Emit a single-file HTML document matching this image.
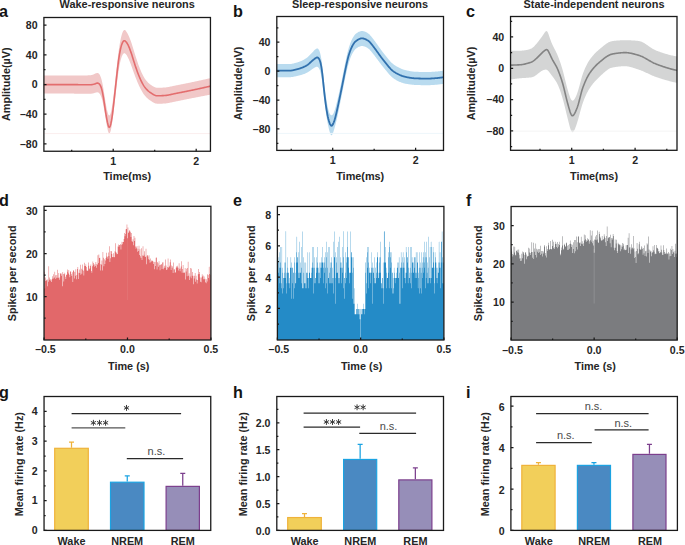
<!DOCTYPE html><html><head><meta charset="utf-8"><style>html,body{margin:0;padding:0;background:#fff;overflow:hidden}svg{display:block;font-family:"Liberation Sans", sans-serif}.t{font-size:10.6px;font-weight:bold;fill:#262626}.l{font-size:10.85px;font-weight:bold;fill:#262626}.T{font-size:10.9px;font-weight:bold;fill:#262626}.L{font-size:16.2px;font-weight:bold;fill:#141414}.s{font-size:11px;fill:#4a4a4a}</style></head><body>
<svg width="685" height="545" viewBox="0 0 685 545">
<rect width="685" height="545" fill="#fff"/>
<defs>
<clipPath id="ca"><rect x="43.9" y="17.5" width="166.55" height="133.75"/></clipPath>
<clipPath id="cb"><rect x="276.8" y="16.5" width="166.7" height="133.9"/></clipPath>
<clipPath id="cc"><rect x="510.55" y="16.5" width="166.45" height="133.8"/></clipPath>
<clipPath id="cd"><rect x="44.05" y="206.3" width="166.85" height="133.7"/></clipPath>
<clipPath id="ce"><rect x="277.4" y="206.45" width="166.5" height="133.55"/></clipPath>
<clipPath id="cf"><rect x="511.1" y="206.5" width="166.1" height="133.6"/></clipPath>
</defs>
<path d="M42.9 75.6 43.4 75.6 43.9 75.6 44.4 75.6 44.9 75.6 45.4 75.6 45.9 75.6 46.4 75.6 46.9 75.6 47.4 75.6 47.9 75.6 48.4 75.6 48.9 75.6 49.4 75.6 49.9 75.6 50.4 75.6 50.9 75.6 51.4 75.6 51.9 75.6 52.4 75.6 52.9 75.6 53.4 75.6 53.9 75.6 54.4 75.6 54.9 75.6 55.4 75.6 55.9 75.6 56.4 75.6 56.9 75.6 57.4 75.6 57.9 75.6 58.4 75.6 58.9 75.6 59.4 75.6 59.9 75.6 60.4 75.6 60.9 75.6 61.4 75.6 61.9 75.6 62.4 75.6 62.9 75.6 63.4 75.6 63.9 75.6 64.4 75.6 64.9 75.6 65.4 75.6 65.9 75.6 66.4 75.6 66.9 75.6 67.4 75.6 67.9 75.6 68.4 75.6 68.9 75.6 69.4 75.6 69.9 75.6 70.4 75.6 70.9 75.6 71.4 75.6 71.9 75.6 72.4 75.6 72.9 75.59 73.4 75.59 73.9 75.59 74.4 75.59 74.9 75.59 75.4 75.58 75.9 75.58 76.4 75.57 76.9 75.57 77.4 75.57 77.9 75.56 78.4 75.56 78.9 75.55 79.4 75.54 79.9 75.54 80.4 75.53 80.9 75.52 81.4 75.51 81.9 75.51 82.4 75.5 82.9 75.49 83.4 75.48 83.9 75.47 84.4 75.46 84.9 75.45 85.4 75.43 85.9 75.42 86.4 75.41 86.9 75.39 87.4 75.38 87.9 75.36 88.4 75.35 88.9 75.32 89.4 75.29 89.9 75.25 90.4 75.2 90.9 75.13 91.4 75.04 91.9 74.92 92.4 74.79 92.9 74.64 93.4 74.46 93.9 74.27 94.4 74.06 94.9 73.83 95.4 73.59 95.9 73.35 96.4 73.15 96.9 73.01 97.4 72.96 97.9 73.05 98.4 73.29 98.9 73.7 99.4 74.3 99.9 75.1 100.4 76.15 100.9 77.47 101.4 79.09 101.9 81.03 102.4 83.3 102.9 85.87 103.4 88.71 103.9 91.74 104.4 94.89 104.9 98.07 105.4 101.19 105.9 104.18 106.4 106.95 106.9 109.44 107.4 111.6 107.9 113.36 108.4 114.63 108.9 115.36 109.4 115.49 109.9 115 110.4 113.88 110.9 112.18 111.4 109.94 111.9 107.22 112.4 104.05 112.9 100.49 113.4 96.62 113.9 92.49 114.4 88.17 114.9 83.72 115.4 79.18 115.9 74.59 116.4 70.01 116.9 65.5 117.4 61.11 117.9 56.91 118.4 52.98 118.9 49.34 119.4 46.03 119.9 43.05 120.4 40.39 120.9 38.04 121.4 35.98 121.9 34.2 122.4 32.71 122.9 31.53 123.4 30.66 123.9 30.13 124.4 29.92 124.9 30.02 125.4 30.37 125.9 30.92 126.4 31.63 126.9 32.43 127.4 33.32 127.9 34.27 128.4 35.28 128.9 36.36 129.4 37.49 129.9 38.7 130.4 39.99 130.9 41.35 131.4 42.79 131.9 44.3 132.4 45.88 132.9 47.5 133.4 49.14 133.9 50.8 134.4 52.45 134.9 54.08 135.4 55.68 135.9 57.27 136.4 58.82 136.9 60.35 137.4 61.85 137.9 63.3 138.4 64.71 138.9 66.07 139.4 67.37 139.9 68.63 140.4 69.84 140.9 71.01 141.4 72.14 141.9 73.23 142.4 74.27 142.9 75.26 143.4 76.2 143.9 77.08 144.4 77.91 144.9 78.68 145.4 79.4 145.9 80.07 146.4 80.7 146.9 81.3 147.4 81.86 147.9 82.39 148.4 82.88 148.9 83.35 149.4 83.78 149.9 84.18 150.4 84.57 150.9 84.93 151.4 85.27 151.9 85.61 152.4 85.93 152.9 86.23 153.4 86.51 153.9 86.78 154.4 87.01 154.9 87.22 155.4 87.39 155.9 87.53 156.4 87.63 156.9 87.7 157.4 87.74 157.9 87.76 158.4 87.77 158.9 87.77 159.4 87.76 159.9 87.74 160.4 87.73 160.9 87.71 161.4 87.69 161.9 87.67 162.4 87.64 162.9 87.62 163.4 87.59 163.9 87.56 164.4 87.53 164.9 87.49 165.4 87.44 165.9 87.39 166.4 87.34 166.9 87.27 167.4 87.2 167.9 87.12 168.4 87.03 168.9 86.93 169.4 86.83 169.9 86.73 170.4 86.62 170.9 86.51 171.4 86.4 171.9 86.28 172.4 86.17 172.9 86.06 173.4 85.95 173.9 85.84 174.4 85.73 174.9 85.63 175.4 85.53 175.9 85.43 176.4 85.33 176.9 85.23 177.4 85.13 177.9 85.03 178.4 84.94 178.9 84.84 179.4 84.74 179.9 84.64 180.4 84.54 180.9 84.45 181.4 84.35 181.9 84.25 182.4 84.15 182.9 84.05 183.4 83.95 183.9 83.85 184.4 83.75 184.9 83.65 185.4 83.55 185.9 83.45 186.4 83.35 186.9 83.25 187.4 83.15 187.9 83.05 188.4 82.94 188.9 82.84 189.4 82.74 189.9 82.64 190.4 82.53 190.9 82.43 191.4 82.32 191.9 82.22 192.4 82.11 192.9 82.01 193.4 81.9 193.9 81.8 194.4 81.69 194.9 81.59 195.4 81.48 195.9 81.37 196.4 81.27 196.9 81.16 197.4 81.05 197.9 80.94 198.4 80.83 198.9 80.72 199.4 80.62 199.9 80.51 200.4 80.4 200.9 80.29 201.4 80.18 201.9 80.07 202.4 79.96 202.9 79.84 203.4 79.73 203.9 79.62 204.4 79.51 204.9 79.4 205.4 79.29 205.9 79.17 206.4 79.06 206.9 78.95 207.4 78.83 207.9 78.72 208.4 78.61 208.9 78.5 209.4 78.4 209.9 78.32 210.4 78.24 210.9 78.19 211.4 78.15 L211.4 94.64 210.9 94.67 210.4 94.72 209.9 94.78 209.4 94.85 208.9 94.94 208.4 95.02 207.9 95.12 207.4 95.21 206.9 95.31 206.4 95.4 205.9 95.5 205.4 95.59 204.9 95.69 204.4 95.79 203.9 95.88 203.4 95.98 202.9 96.08 202.4 96.17 201.9 96.27 201.4 96.37 200.9 96.46 200.4 96.56 199.9 96.66 199.4 96.75 198.9 96.85 198.4 96.95 197.9 97.05 197.4 97.14 196.9 97.24 196.4 97.34 195.9 97.44 195.4 97.53 194.9 97.63 194.4 97.73 193.9 97.83 193.4 97.93 192.9 98.02 192.4 98.12 191.9 98.22 191.4 98.32 190.9 98.42 190.4 98.52 189.9 98.62 189.4 98.72 188.9 98.82 188.4 98.92 187.9 99.02 187.4 99.12 186.9 99.22 186.4 99.32 185.9 99.42 185.4 99.52 184.9 99.62 184.4 99.72 183.9 99.82 183.4 99.93 182.9 100.03 182.4 100.13 181.9 100.23 181.4 100.33 180.9 100.43 180.4 100.53 179.9 100.63 179.4 100.73 178.9 100.83 178.4 100.93 177.9 101.03 177.4 101.13 176.9 101.23 176.4 101.33 175.9 101.43 175.4 101.53 174.9 101.63 174.4 101.73 173.9 101.84 173.4 101.95 172.9 102.06 172.4 102.17 171.9 102.28 171.4 102.4 170.9 102.51 170.4 102.62 169.9 102.73 169.4 102.83 168.9 102.93 168.4 103.03 167.9 103.12 167.4 103.2 166.9 103.27 166.4 103.34 165.9 103.39 165.4 103.44 164.9 103.49 164.4 103.53 163.9 103.56 163.4 103.59 162.9 103.62 162.4 103.64 161.9 103.67 161.4 103.69 160.9 103.71 160.4 103.73 159.9 103.74 159.4 103.76 158.9 103.76 158.4 103.77 157.9 103.76 157.4 103.74 156.9 103.69 156.4 103.62 155.9 103.52 155.4 103.38 154.9 103.2 154.4 102.99 153.9 102.75 153.4 102.48 152.9 102.2 152.4 101.9 151.9 101.59 151.4 101.27 150.9 100.94 150.4 100.61 149.9 100.27 149.4 99.92 148.9 99.55 148.4 99.16 147.9 98.75 147.4 98.32 146.9 97.86 146.4 97.38 145.9 96.86 145.4 96.32 144.9 95.73 144.4 95.1 143.9 94.42 143.4 93.69 142.9 92.92 142.4 92.11 141.9 91.25 141.4 90.36 140.9 89.44 140.4 88.48 139.9 87.49 139.4 86.46 138.9 85.4 138.4 84.3 137.9 83.16 137.4 81.98 136.9 80.77 136.4 79.53 135.9 78.26 135.4 76.96 134.9 75.64 134.4 74.29 133.9 72.91 133.4 71.53 132.9 70.13 132.4 68.73 131.9 67.34 131.4 65.96 130.9 64.61 130.4 63.29 129.9 62.01 129.4 60.77 128.9 59.58 128.4 58.46 127.9 57.42 127.4 56.47 126.9 55.61 126.4 54.85 125.9 54.21 125.4 53.7 124.9 53.36 124.4 53.23 123.9 53.33 123.4 53.67 122.9 54.28 122.4 55.14 121.9 56.25 121.4 57.63 120.9 59.29 120.4 61.24 119.9 63.52 119.4 66.12 118.9 69.06 118.4 72.33 117.9 75.92 117.4 79.77 116.9 83.84 116.4 88.06 115.9 92.37 115.4 96.71 114.9 101.05 114.4 105.33 113.9 109.53 113.4 113.6 112.9 117.48 112.4 121.12 111.9 124.45 111.4 127.41 110.9 129.9 110.4 131.83 109.9 133.09 109.4 133.6 108.9 133.33 108.4 132.3 107.9 130.63 107.4 128.45 106.9 125.9 106.4 123.11 105.9 120.15 105.4 117.12 104.9 114.07 104.4 111.07 103.9 108.19 103.4 105.48 102.9 103.01 102.4 100.81 101.9 98.91 101.4 97.3 100.9 95.98 100.4 94.92 99.9 94.07 99.4 93.42 98.9 92.94 98.4 92.6 97.9 92.4 97.4 92.31 96.9 92.32 96.4 92.41 95.9 92.54 95.4 92.69 94.9 92.85 94.4 93 93.9 93.14 93.4 93.27 92.9 93.38 92.4 93.48 91.9 93.57 91.4 93.64 90.9 93.69 90.4 93.74 89.9 93.76 89.4 93.78 88.9 93.79 88.4 93.79 87.9 93.79 87.4 93.79 86.9 93.79 86.4 93.78 85.9 93.78 85.4 93.77 84.9 93.77 84.4 93.76 83.9 93.75 83.4 93.75 82.9 93.74 82.4 93.73 81.9 93.73 81.4 93.72 80.9 93.71 80.4 93.71 79.9 93.7 79.4 93.69 78.9 93.68 78.4 93.68 77.9 93.67 77.4 93.66 76.9 93.66 76.4 93.65 75.9 93.64 75.4 93.64 74.9 93.63 74.4 93.63 73.9 93.62 73.4 93.62 72.9 93.61 72.4 93.61 71.9 93.61 71.4 93.6 70.9 93.6 70.4 93.6 69.9 93.6 69.4 93.6 68.9 93.6 68.4 93.6 67.9 93.6 67.4 93.6 66.9 93.6 66.4 93.6 65.9 93.6 65.4 93.6 64.9 93.6 64.4 93.6 63.9 93.6 63.4 93.6 62.9 93.6 62.4 93.6 61.9 93.6 61.4 93.6 60.9 93.6 60.4 93.6 59.9 93.6 59.4 93.6 58.9 93.6 58.4 93.6 57.9 93.6 57.4 93.6 56.9 93.6 56.4 93.6 55.9 93.6 55.4 93.6 54.9 93.6 54.4 93.6 53.9 93.6 53.4 93.6 52.9 93.6 52.4 93.6 51.9 93.6 51.4 93.6 50.9 93.6 50.4 93.6 49.9 93.6 49.4 93.6 48.9 93.6 48.4 93.6 47.9 93.6 47.4 93.6 46.9 93.6 46.4 93.6 45.9 93.6 45.4 93.6 44.9 93.6 44.4 93.6 43.9 93.6 43.4 93.6 42.9 93.6Z" fill="#f1c8c8" clip-path="url(#ca)"/>
<path d="M42.9 84.6 43.4 84.6 43.9 84.6 44.4 84.6 44.9 84.6 45.4 84.6 45.9 84.6 46.4 84.6 46.9 84.6 47.4 84.6 47.9 84.6 48.4 84.6 48.9 84.6 49.4 84.6 49.9 84.6 50.4 84.6 50.9 84.6 51.4 84.6 51.9 84.6 52.4 84.6 52.9 84.6 53.4 84.6 53.9 84.6 54.4 84.6 54.9 84.6 55.4 84.6 55.9 84.6 56.4 84.6 56.9 84.6 57.4 84.6 57.9 84.6 58.4 84.6 58.9 84.6 59.4 84.6 59.9 84.6 60.4 84.6 60.9 84.6 61.4 84.6 61.9 84.6 62.4 84.6 62.9 84.6 63.4 84.6 63.9 84.6 64.4 84.6 64.9 84.6 65.4 84.6 65.9 84.6 66.4 84.6 66.9 84.6 67.4 84.6 67.9 84.6 68.4 84.6 68.9 84.6 69.4 84.6 69.9 84.6 70.4 84.6 70.9 84.6 71.4 84.6 71.9 84.61 72.4 84.61 72.9 84.61 73.4 84.62 73.9 84.62 74.4 84.63 74.9 84.63 75.4 84.64 75.9 84.64 76.4 84.65 76.9 84.66 77.4 84.66 77.9 84.67 78.4 84.68 78.9 84.68 79.4 84.69 79.9 84.7 80.4 84.71 80.9 84.71 81.4 84.72 81.9 84.73 82.4 84.74 82.9 84.74 83.4 84.75 83.9 84.76 84.4 84.76 84.9 84.77 85.4 84.77 85.9 84.78 86.4 84.78 86.9 84.79 87.4 84.79 87.9 84.79 88.4 84.8 88.9 84.8 89.4 84.79 89.9 84.79 90.4 84.77 90.9 84.73 91.4 84.68 91.9 84.6 92.4 84.51 92.9 84.41 93.4 84.3 93.9 84.17 94.4 84.04 94.9 83.89 95.4 83.71 95.9 83.51 96.4 83.31 96.9 83.16 97.4 83.09 97.9 83.13 98.4 83.32 98.9 83.64 99.4 84.1 99.9 84.72 100.4 85.56 100.9 86.67 101.4 88.12 101.9 89.92 102.4 92.08 102.9 94.61 103.4 97.49 103.9 100.62 104.4 103.9 104.9 107.26 105.4 110.61 105.9 113.85 106.4 116.89 106.9 119.65 107.4 122.13 107.9 124.28 108.4 125.98 108.9 127.04 109.4 127.31 109.9 126.74 110.4 125.41 110.9 123.46 111.4 120.99 111.9 118.04 112.4 114.59 112.9 110.68 113.4 106.43 113.9 101.99 114.4 97.45 114.9 92.86 115.4 88.23 115.9 83.58 116.4 78.95 116.9 74.36 117.4 69.88 117.9 65.63 118.4 61.69 118.9 58.12 119.4 54.9 119.9 52.02 120.4 49.5 120.9 47.36 121.4 45.58 121.9 44.1 122.4 42.88 122.9 41.89 123.4 41.19 123.9 40.78 124.4 40.68 124.9 40.84 125.4 41.19 125.9 41.7 126.4 42.31 126.9 43.01 127.4 43.8 127.9 44.69 128.4 45.7 128.9 46.84 129.4 48.07 129.9 49.37 130.4 50.73 130.9 52.13 131.4 53.59 131.9 55.11 132.4 56.69 132.9 58.3 133.4 59.92 133.9 61.53 134.4 63.11 134.9 64.65 135.4 66.15 135.9 67.63 136.4 69.08 136.9 70.51 137.4 71.91 137.9 73.27 138.4 74.57 138.9 75.82 139.4 77.01 139.9 78.14 140.4 79.24 140.9 80.31 141.4 81.34 141.9 82.34 142.4 83.29 142.9 84.21 143.4 85.07 143.9 85.87 144.4 86.62 144.9 87.31 145.4 87.94 145.9 88.54 146.4 89.11 146.9 89.64 147.4 90.15 147.9 90.63 148.4 91.08 148.9 91.5 149.4 91.9 149.9 92.27 150.4 92.62 150.9 92.96 151.4 93.29 151.9 93.62 152.4 93.94 152.9 94.25 153.4 94.54 153.9 94.82 154.4 95.07 154.9 95.28 155.4 95.46 155.9 95.6 156.4 95.7 156.9 95.75 157.4 95.78 157.9 95.79 158.4 95.78 158.9 95.77 159.4 95.76 159.9 95.75 160.4 95.73 160.9 95.71 161.4 95.69 161.9 95.67 162.4 95.65 162.9 95.62 163.4 95.59 163.9 95.56 164.4 95.53 164.9 95.5 165.4 95.46 165.9 95.41 166.4 95.36 166.9 95.29 167.4 95.21 167.9 95.13 168.4 95.04 168.9 94.94 169.4 94.84 169.9 94.73 170.4 94.62 170.9 94.51 171.4 94.4 171.9 94.28 172.4 94.17 172.9 94.05 173.4 93.94 173.9 93.83 174.4 93.73 174.9 93.62 175.4 93.52 175.9 93.43 176.4 93.33 176.9 93.23 177.4 93.13 177.9 93.03 178.4 92.94 178.9 92.84 179.4 92.74 179.9 92.64 180.4 92.54 180.9 92.45 181.4 92.35 181.9 92.25 182.4 92.15 182.9 92.05 183.4 91.95 183.9 91.85 184.4 91.75 184.9 91.65 185.4 91.55 185.9 91.45 186.4 91.35 186.9 91.25 187.4 91.15 187.9 91.05 188.4 90.94 188.9 90.84 189.4 90.74 189.9 90.64 190.4 90.53 190.9 90.43 191.4 90.32 191.9 90.22 192.4 90.12 192.9 90.01 193.4 89.91 193.9 89.8 194.4 89.69 194.9 89.59 195.4 89.48 195.9 89.37 196.4 89.27 196.9 89.16 197.4 89.05 197.9 88.94 198.4 88.83 198.9 88.73 199.4 88.62 199.9 88.51 200.4 88.4 200.9 88.29 201.4 88.18 201.9 88.07 202.4 87.96 202.9 87.85 203.4 87.73 203.9 87.62 204.4 87.51 204.9 87.4 205.4 87.29 205.9 87.17 206.4 87.06 206.9 86.95 207.4 86.83 207.9 86.72 208.4 86.61 208.9 86.49 209.4 86.38 209.9 86.28 210.4 86.2 210.9 86.14 211.4 86.12" fill="none" stroke="#e36d6e" stroke-width="1.6" stroke-linejoin="round" clip-path="url(#ca)"/>
<path d="M44.5 133.6H210" stroke="#fbeeee" stroke-width="1"/>
<rect x="43.9" y="17.5" width="166.55" height="133.75" fill="none" stroke="#1a1a1a" stroke-width="1.3"/>
<path d="M43.9 25.14h2.6M43.9 54.82h2.6M43.9 84.5h2.6M43.9 114.18h2.6M43.9 143.86h2.6M43.9 39.98h1.6M43.9 69.66h1.6M43.9 99.34h1.6M43.9 129.02h1.6" stroke="#1a1a1a" stroke-width="1.25" fill="none"/>
<text x="37.6" y="28.89" text-anchor="end" class="t">80</text>
<text x="37.6" y="58.57" text-anchor="end" class="t">40</text>
<text x="37.6" y="88.25" text-anchor="end" class="t">0</text>
<text x="37.6" y="117.93" text-anchor="end" class="t">–40</text>
<text x="37.6" y="147.61" text-anchor="end" class="t">–80</text>
<path d="M113.2 151.25v-2.6M196.2 151.25v-2.6M71.7 151.25v-1.6M154.7 151.25v-1.6" stroke="#1a1a1a" stroke-width="1.25" fill="none"/>
<text x="113.2" y="164.65" text-anchor="middle" class="t">1</text>
<text x="196.2" y="164.65" text-anchor="middle" class="t">2</text>
<text transform="translate(10.1 84.2) rotate(-90)" text-anchor="middle" class="l">Amplitude(µV)</text>
<text x="127.2" y="180.3" text-anchor="middle" class="l">Time(ms)</text>
<text x="-0.9" y="16.9" class="L">a</text>
<text x="127.2" y="8.1" text-anchor="middle" class="T">Wake-responsive neurons</text>
<path d="M275.8 64.1 276.3 64.1 276.8 64.1 277.3 64.1 277.8 64.1 278.3 64.1 278.8 64.1 279.3 64.1 279.8 64.1 280.3 64.1 280.8 64.1 281.3 64.1 281.8 64.1 282.3 64.1 282.8 64.1 283.3 64.1 283.8 64.1 284.3 64.1 284.8 64.1 285.3 64.1 285.8 64.1 286.3 64.1 286.8 64.1 287.3 64.1 287.8 64.09 288.3 64.09 288.8 64.08 289.3 64.06 289.8 64.03 290.3 63.99 290.8 63.94 291.3 63.88 291.8 63.8 292.3 63.71 292.8 63.61 293.3 63.5 293.8 63.38 294.3 63.26 294.8 63.12 295.3 62.99 295.8 62.85 296.3 62.7 296.8 62.55 297.3 62.4 297.8 62.25 298.3 62.08 298.8 61.92 299.3 61.74 299.8 61.56 300.3 61.36 300.8 61.16 301.3 60.94 301.8 60.71 302.3 60.47 302.8 60.22 303.3 59.96 303.8 59.69 304.3 59.41 304.8 59.12 305.3 58.82 305.8 58.5 306.3 58.16 306.8 57.8 307.3 57.42 307.8 57.01 308.3 56.57 308.8 56.1 309.3 55.6 309.8 55.09 310.3 54.56 310.8 54.03 311.3 53.49 311.8 52.96 312.3 52.43 312.8 51.9 313.3 51.38 313.8 50.86 314.3 50.35 314.8 49.85 315.3 49.39 315.8 48.98 316.3 48.66 316.8 48.46 317.3 48.42 317.8 48.58 318.3 48.97 318.8 49.63 319.3 50.61 319.8 51.95 320.3 53.72 320.8 55.97 321.3 58.75 321.8 62.05 322.3 65.85 322.8 70.04 323.3 74.49 323.8 79.02 324.3 83.48 324.8 87.76 325.3 91.78 325.8 95.51 326.3 98.94 326.8 102.05 327.3 104.85 327.8 107.32 328.3 109.44 328.8 111.22 329.3 112.66 329.8 113.77 330.3 114.59 330.8 115.12 331.3 115.37 331.8 115.34 332.3 115.05 332.8 114.49 333.3 113.69 333.8 112.64 334.3 111.37 334.8 109.9 335.3 108.25 335.8 106.45 336.3 104.53 336.8 102.53 337.3 100.45 337.8 98.31 338.3 96.13 338.8 93.91 339.3 91.66 339.8 89.38 340.3 87.06 340.8 84.72 341.3 82.34 341.8 79.92 342.3 77.48 342.8 75 343.3 72.51 343.8 70.01 344.3 67.53 344.8 65.06 345.3 62.64 345.8 60.27 346.3 57.95 346.8 55.72 347.3 53.57 347.8 51.54 348.3 49.63 348.8 47.85 349.3 46.2 349.8 44.68 350.3 43.28 350.8 41.98 351.3 40.79 351.8 39.69 352.3 38.68 352.8 37.75 353.3 36.91 353.8 36.15 354.3 35.47 354.8 34.86 355.3 34.33 355.8 33.86 356.3 33.44 356.8 33.07 357.3 32.72 357.8 32.41 358.3 32.12 358.8 31.86 359.3 31.63 359.8 31.44 360.3 31.28 360.8 31.16 361.3 31.08 361.8 31.05 362.3 31.05 362.8 31.09 363.3 31.18 363.8 31.29 364.3 31.44 364.8 31.61 365.3 31.82 365.8 32.04 366.3 32.29 366.8 32.56 367.3 32.85 367.8 33.17 368.3 33.52 368.8 33.92 369.3 34.36 369.8 34.85 370.3 35.38 370.8 35.95 371.3 36.55 371.8 37.16 372.3 37.79 372.8 38.43 373.3 39.07 373.8 39.73 374.3 40.4 374.8 41.08 375.3 41.76 375.8 42.46 376.3 43.16 376.8 43.87 377.3 44.58 377.8 45.29 378.3 46 378.8 46.71 379.3 47.42 379.8 48.11 380.3 48.81 380.8 49.49 381.3 50.16 381.8 50.83 382.3 51.48 382.8 52.13 383.3 52.77 383.8 53.41 384.3 54.05 384.8 54.69 385.3 55.32 385.8 55.96 386.3 56.6 386.8 57.24 387.3 57.86 387.8 58.49 388.3 59.1 388.8 59.7 389.3 60.28 389.8 60.85 390.3 61.4 390.8 61.93 391.3 62.43 391.8 62.92 392.3 63.37 392.8 63.8 393.3 64.2 393.8 64.58 394.3 64.94 394.8 65.28 395.3 65.61 395.8 65.92 396.3 66.22 396.8 66.52 397.3 66.8 397.8 67.08 398.3 67.35 398.8 67.6 399.3 67.85 399.8 68.09 400.3 68.32 400.8 68.54 401.3 68.75 401.8 68.95 402.3 69.14 402.8 69.31 403.3 69.48 403.8 69.64 404.3 69.79 404.8 69.92 405.3 70.06 405.8 70.18 406.3 70.3 406.8 70.42 407.3 70.53 407.8 70.64 408.3 70.75 408.8 70.85 409.3 70.95 409.8 71.05 410.3 71.14 410.8 71.22 411.3 71.31 411.8 71.38 412.3 71.45 412.8 71.52 413.3 71.58 413.8 71.63 414.3 71.68 414.8 71.71 415.3 71.75 415.8 71.78 416.3 71.8 416.8 71.82 417.3 71.84 417.8 71.85 418.3 71.87 418.8 71.88 419.3 71.89 419.8 71.91 420.3 71.92 420.8 71.93 421.3 71.94 421.8 71.95 422.3 71.96 422.8 71.96 423.3 71.97 423.8 71.98 424.3 71.98 424.8 71.99 425.3 71.99 425.8 71.99 426.3 71.99 426.8 71.99 427.3 71.99 427.8 71.99 428.3 71.98 428.8 71.97 429.3 71.96 429.8 71.94 430.3 71.93 430.8 71.91 431.3 71.88 431.8 71.86 432.3 71.83 432.8 71.8 433.3 71.77 433.8 71.73 434.3 71.7 434.8 71.66 435.3 71.62 435.8 71.57 436.3 71.53 436.8 71.48 437.3 71.43 437.8 71.38 438.3 71.33 438.8 71.27 439.3 71.22 439.8 71.16 440.3 71.1 440.8 71.04 441.3 70.98 441.8 70.92 442.3 70.86 442.8 70.82 443.3 70.78 443.8 70.75 444.3 70.73 L444.3 83.93 443.8 83.95 443.3 83.98 442.8 84.02 442.3 84.06 441.8 84.12 441.3 84.18 440.8 84.24 440.3 84.3 439.8 84.36 439.3 84.42 438.8 84.47 438.3 84.53 437.8 84.58 437.3 84.63 436.8 84.68 436.3 84.73 435.8 84.77 435.3 84.82 434.8 84.86 434.3 84.9 433.8 84.93 433.3 84.97 432.8 85 432.3 85.03 431.8 85.06 431.3 85.08 430.8 85.11 430.3 85.13 429.8 85.14 429.3 85.16 428.8 85.17 428.3 85.18 427.8 85.19 427.3 85.19 426.8 85.19 426.3 85.19 425.8 85.19 425.3 85.19 424.8 85.19 424.3 85.18 423.8 85.18 423.3 85.17 422.8 85.16 422.3 85.16 421.8 85.15 421.3 85.14 420.8 85.13 420.3 85.12 419.8 85.1 419.3 85.09 418.8 85.08 418.3 85.07 417.8 85.05 417.3 85.04 416.8 85.02 416.3 85 415.8 84.98 415.3 84.96 414.8 84.93 414.3 84.9 413.8 84.86 413.3 84.82 412.8 84.78 412.3 84.73 411.8 84.67 411.3 84.62 410.8 84.55 410.3 84.49 409.8 84.42 409.3 84.34 408.8 84.27 408.3 84.19 407.8 84.11 407.3 84.02 406.8 83.93 406.3 83.84 405.8 83.74 405.3 83.64 404.8 83.53 404.3 83.41 403.8 83.29 403.3 83.15 402.8 83 402.3 82.84 401.8 82.67 401.3 82.49 400.8 82.3 400.3 82.1 399.8 81.89 399.3 81.66 398.8 81.43 398.3 81.19 397.8 80.94 397.3 80.68 396.8 80.41 396.3 80.14 395.8 79.85 395.3 79.56 394.8 79.25 394.3 78.93 393.8 78.59 393.3 78.23 392.8 77.85 392.3 77.44 391.8 77 391.3 76.54 390.8 76.05 390.3 75.54 389.8 75 389.3 74.45 388.8 73.88 388.3 73.3 387.8 72.71 387.3 72.1 386.8 71.49 386.3 70.87 385.8 70.26 385.3 69.63 384.8 69.01 384.3 68.4 383.8 67.78 383.3 67.16 382.8 66.54 382.3 65.92 381.8 65.29 381.3 64.66 380.8 64.01 380.3 63.36 379.8 62.7 379.3 62.03 378.8 61.36 378.3 60.68 377.8 60 377.3 59.32 376.8 58.65 376.3 57.97 375.8 57.3 375.3 56.63 374.8 55.97 374.3 55.31 373.8 54.67 373.3 54.03 372.8 53.4 372.3 52.77 371.8 52.15 371.3 51.55 370.8 50.95 370.3 50.39 369.8 49.85 369.3 49.36 368.8 48.92 368.3 48.52 367.8 48.17 367.3 47.85 366.8 47.56 366.3 47.29 365.8 47.04 365.3 46.82 364.8 46.61 364.3 46.44 363.8 46.29 363.3 46.18 362.8 46.09 362.3 46.05 361.8 46.05 361.3 46.08 360.8 46.16 360.3 46.28 359.8 46.44 359.3 46.63 358.8 46.86 358.3 47.12 357.8 47.41 357.3 47.72 356.8 48.07 356.3 48.44 355.8 48.86 355.3 49.33 354.8 49.86 354.3 50.47 353.8 51.15 353.3 51.91 352.8 52.75 352.3 53.68 351.8 54.69 351.3 55.79 350.8 56.98 350.3 58.28 349.8 59.68 349.3 61.2 348.8 62.85 348.3 64.63 347.8 66.54 347.3 68.57 346.8 70.71 346.3 72.95 345.8 75.26 345.3 77.62 344.8 80.04 344.3 82.5 343.8 84.99 343.3 87.5 342.8 90.03 342.3 92.55 341.8 95.08 341.3 97.6 340.8 100.1 340.3 102.59 339.8 105.06 339.3 107.5 338.8 109.92 338.3 112.3 337.8 114.64 337.3 116.92 336.8 119.14 336.3 121.27 335.8 123.3 335.3 125.24 334.8 127.1 334.3 128.89 333.8 130.59 333.3 132.18 332.8 133.55 332.3 134.59 331.8 135.19 331.3 135.26 330.8 134.77 330.3 133.77 329.8 132.34 329.3 130.57 328.8 128.56 328.3 126.35 327.8 123.95 327.3 121.34 326.8 118.49 326.3 115.37 325.8 111.96 325.3 108.25 324.8 104.25 324.3 100 323.8 95.57 323.3 91.11 322.8 86.78 322.3 82.76 321.8 79.19 321.3 76.15 320.8 73.65 320.3 71.65 319.8 70.09 319.3 68.9 318.8 68.01 318.3 67.38 317.8 66.98 317.3 66.77 316.8 66.71 316.3 66.79 315.8 66.95 315.3 67.18 314.8 67.45 314.3 67.75 313.8 68.06 313.3 68.39 312.8 68.72 312.3 69.07 311.8 69.42 311.3 69.79 310.8 70.16 310.3 70.53 309.8 70.91 309.3 71.27 308.8 71.62 308.3 71.96 307.8 72.27 307.3 72.56 306.8 72.82 306.3 73.07 305.8 73.3 305.3 73.52 304.8 73.72 304.3 73.91 303.8 74.1 303.3 74.28 302.8 74.45 302.3 74.62 301.8 74.78 301.3 74.93 300.8 75.07 300.3 75.21 299.8 75.35 299.3 75.48 298.8 75.6 298.3 75.72 297.8 75.84 297.3 75.96 296.8 76.07 296.3 76.19 295.8 76.3 295.3 76.41 294.8 76.52 294.3 76.62 293.8 76.72 293.3 76.82 292.8 76.9 292.3 76.98 291.8 77.06 291.3 77.12 290.8 77.17 290.3 77.21 289.8 77.24 289.3 77.27 288.8 77.28 288.3 77.29 287.8 77.3 287.3 77.3 286.8 77.3 286.3 77.3 285.8 77.3 285.3 77.3 284.8 77.3 284.3 77.3 283.8 77.3 283.3 77.3 282.8 77.3 282.3 77.3 281.8 77.3 281.3 77.3 280.8 77.3 280.3 77.3 279.8 77.3 279.3 77.3 278.8 77.3 278.3 77.3 277.8 77.3 277.3 77.3 276.8 77.3 276.3 77.3 275.8 77.3Z" fill="#b9dbef" clip-path="url(#cb)"/>
<path d="M275.8 70.7 276.3 70.7 276.8 70.7 277.3 70.7 277.8 70.7 278.3 70.7 278.8 70.7 279.3 70.7 279.8 70.7 280.3 70.7 280.8 70.7 281.3 70.7 281.8 70.7 282.3 70.7 282.8 70.7 283.3 70.7 283.8 70.7 284.3 70.7 284.8 70.7 285.3 70.7 285.8 70.7 286.3 70.7 286.8 70.7 287.3 70.7 287.8 70.7 288.3 70.7 288.8 70.69 289.3 70.68 289.8 70.66 290.3 70.63 290.8 70.58 291.3 70.52 291.8 70.45 292.3 70.37 292.8 70.28 293.3 70.17 293.8 70.07 294.3 69.95 294.8 69.83 295.3 69.71 295.8 69.58 296.3 69.45 296.8 69.32 297.3 69.18 297.8 69.05 298.3 68.91 298.8 68.77 299.3 68.62 299.8 68.47 300.3 68.3 300.8 68.13 301.3 67.95 301.8 67.76 302.3 67.56 302.8 67.36 303.3 67.14 303.8 66.92 304.3 66.68 304.8 66.44 305.3 66.19 305.8 65.93 306.3 65.66 306.8 65.36 307.3 65.04 307.8 64.69 308.3 64.31 308.8 63.89 309.3 63.45 309.8 62.99 310.3 62.53 310.8 62.06 311.3 61.59 311.8 61.14 312.3 60.7 312.8 60.28 313.3 59.88 313.8 59.49 314.3 59.09 314.8 58.7 315.3 58.32 315.8 57.98 316.3 57.7 316.8 57.51 317.3 57.45 317.8 57.57 318.3 57.91 318.8 58.5 319.3 59.34 319.8 60.5 320.3 62.04 320.8 64.05 321.3 66.61 321.8 69.82 322.3 73.7 322.8 78.17 323.3 83 323.8 87.88 324.3 92.57 324.8 96.92 325.3 100.93 325.8 104.63 326.3 108.04 326.8 111.15 327.3 113.97 327.8 116.49 328.3 118.7 328.8 120.59 329.3 122.18 329.8 123.52 330.3 124.6 330.8 125.36 331.3 125.75 331.8 125.71 332.3 125.28 332.8 124.51 333.3 123.49 333.8 122.27 334.3 120.86 334.8 119.26 335.3 117.49 335.8 115.56 336.3 113.5 336.8 111.32 337.3 109.05 337.8 106.72 338.3 104.37 338.8 102 339.3 99.63 339.8 97.25 340.3 94.86 340.8 92.44 341.3 90 341.8 87.54 342.3 85.06 342.8 82.54 343.3 80 343.8 77.46 344.3 74.94 344.8 72.46 345.3 70.03 345.8 67.65 346.3 65.31 346.8 63.03 347.3 60.83 347.8 58.75 348.3 56.83 348.8 55.06 349.3 53.44 349.8 51.94 350.3 50.55 350.8 49.27 351.3 48.09 351.8 47.01 352.3 46.01 352.8 45.1 353.3 44.25 353.8 43.48 354.3 42.79 354.8 42.2 355.3 41.69 355.8 41.25 356.3 40.85 356.8 40.48 357.3 40.13 357.8 39.81 358.3 39.5 358.8 39.23 359.3 38.99 359.8 38.78 360.3 38.61 360.8 38.48 361.3 38.4 361.8 38.36 362.3 38.37 362.8 38.42 363.3 38.5 363.8 38.62 364.3 38.78 364.8 38.96 365.3 39.17 365.8 39.4 366.3 39.65 366.8 39.92 367.3 40.2 367.8 40.5 368.3 40.83 368.8 41.21 369.3 41.64 369.8 42.14 370.3 42.7 370.8 43.3 371.3 43.92 371.8 44.55 372.3 45.17 372.8 45.8 373.3 46.44 373.8 47.09 374.3 47.75 374.8 48.42 375.3 49.1 375.8 49.79 376.3 50.49 376.8 51.19 377.3 51.9 377.8 52.6 378.3 53.31 378.8 54.01 379.3 54.71 379.8 55.4 380.3 56.08 380.8 56.76 381.3 57.42 381.8 58.07 382.3 58.71 382.8 59.35 383.3 59.97 383.8 60.59 384.3 61.22 384.8 61.85 385.3 62.48 385.8 63.12 386.3 63.75 386.8 64.38 387.3 65 387.8 65.62 388.3 66.23 388.8 66.82 389.3 67.4 389.8 67.97 390.3 68.51 390.8 69.04 391.3 69.54 391.8 70.02 392.3 70.46 392.8 70.88 393.3 71.27 393.8 71.64 394.3 71.97 394.8 72.3 395.3 72.6 395.8 72.91 396.3 73.2 396.8 73.48 397.3 73.76 397.8 74.03 398.3 74.29 398.8 74.54 399.3 74.78 399.8 75.01 400.3 75.23 400.8 75.44 401.3 75.64 401.8 75.83 402.3 76.01 402.8 76.18 403.3 76.34 403.8 76.48 404.3 76.62 404.8 76.74 405.3 76.86 405.8 76.97 406.3 77.08 406.8 77.18 407.3 77.28 407.8 77.38 408.3 77.48 408.8 77.57 409.3 77.66 409.8 77.74 410.3 77.82 410.8 77.9 411.3 77.97 411.8 78.04 412.3 78.1 412.8 78.16 413.3 78.21 413.8 78.26 414.3 78.3 414.8 78.33 415.3 78.36 415.8 78.39 416.3 78.41 416.8 78.42 417.3 78.44 417.8 78.45 418.3 78.47 418.8 78.48 419.3 78.49 419.8 78.51 420.3 78.52 420.8 78.53 421.3 78.54 421.8 78.55 422.3 78.56 422.8 78.57 423.3 78.57 423.8 78.58 424.3 78.58 424.8 78.59 425.3 78.59 425.8 78.6 426.3 78.6 426.8 78.6 427.3 78.6 427.8 78.59 428.3 78.59 428.8 78.58 429.3 78.57 429.8 78.55 430.3 78.53 430.8 78.51 431.3 78.49 431.8 78.46 432.3 78.44 432.8 78.41 433.3 78.37 433.8 78.34 434.3 78.3 434.8 78.26 435.3 78.22 435.8 78.18 436.3 78.13 436.8 78.08 437.3 78.03 437.8 77.98 438.3 77.93 438.8 77.87 439.3 77.82 439.8 77.76 440.3 77.7 440.8 77.64 441.3 77.58 441.8 77.51 442.3 77.45 442.8 77.39 443.3 77.35 443.8 77.32 444.3 77.31" fill="none" stroke="#3171ae" stroke-width="1.8" stroke-linejoin="round" clip-path="url(#cb)"/>
<path d="M277.5 133.4H443" stroke="#eef6fb" stroke-width="1"/>
<rect x="276.8" y="16.5" width="166.7" height="133.9" fill="none" stroke="#1a1a1a" stroke-width="1.3"/>
<path d="M276.8 42.2h2.6M276.8 71.1h2.6M276.8 100h2.6M276.8 128.9h2.6M276.8 27.75h1.6M276.8 56.65h1.6M276.8 85.55h1.6M276.8 114.45h1.6M276.8 143.35h1.6" stroke="#1a1a1a" stroke-width="1.25" fill="none"/>
<text x="270.5" y="45.95" text-anchor="end" class="t">40</text>
<text x="270.5" y="74.85" text-anchor="end" class="t">0</text>
<text x="270.5" y="103.75" text-anchor="end" class="t">–40</text>
<text x="270.5" y="132.65" text-anchor="end" class="t">–80</text>
<path d="M332.7 150.4v-2.6M415.6 150.4v-2.6M291.25 150.4v-1.6M374.15 150.4v-1.6" stroke="#1a1a1a" stroke-width="1.25" fill="none"/>
<text x="332.7" y="163.8" text-anchor="middle" class="t">1</text>
<text x="415.6" y="163.8" text-anchor="middle" class="t">2</text>
<text transform="translate(241.8 83.5) rotate(-90)" text-anchor="middle" class="l">Amplitude(µV)</text>
<text x="360.2" y="179.6" text-anchor="middle" class="l">Time(ms)</text>
<text x="232.9" y="16.9" class="L">b</text>
<text x="360" y="8.1" text-anchor="middle" class="T">Sleep-responsive neurons</text>
<path d="M509.55 50.8 510.05 50.8 510.55 50.8 511.05 50.8 511.55 50.8 512.05 50.8 512.55 50.8 513.05 50.79 513.55 50.79 514.05 50.79 514.55 50.79 515.05 50.78 515.55 50.78 516.05 50.77 516.55 50.77 517.05 50.76 517.55 50.76 518.05 50.75 518.55 50.74 519.05 50.73 519.55 50.72 520.05 50.71 520.55 50.7 521.05 50.68 521.55 50.65 522.05 50.62 522.55 50.58 523.05 50.53 523.55 50.47 524.05 50.41 524.55 50.34 525.05 50.26 525.55 50.17 526.05 50.08 526.55 49.98 527.05 49.88 527.55 49.77 528.05 49.66 528.55 49.53 529.05 49.39 529.55 49.24 530.05 49.07 530.55 48.87 531.05 48.65 531.55 48.39 532.05 48.09 532.55 47.74 533.05 47.35 533.55 46.91 534.05 46.42 534.55 45.9 535.05 45.36 535.55 44.8 536.05 44.22 536.55 43.63 537.05 43.03 537.55 42.42 538.05 41.8 538.55 41.17 539.05 40.52 539.55 39.87 540.05 39.21 540.55 38.55 541.05 37.87 541.55 37.18 542.05 36.48 542.55 35.77 543.05 35.03 543.55 34.27 544.05 33.5 544.55 32.75 545.05 32.06 545.55 31.49 546.05 31.13 546.55 31.06 547.05 31.34 547.55 32 548.05 33 548.55 34.28 549.05 35.71 549.55 37.21 550.05 38.68 550.55 40.09 551.05 41.42 551.55 42.66 552.05 43.83 552.55 44.93 553.05 45.98 553.55 46.98 554.05 47.96 554.55 48.92 555.05 49.88 555.55 50.87 556.05 51.88 556.55 52.93 557.05 54.04 557.55 55.2 558.05 56.41 558.55 57.68 559.05 59 559.55 60.38 560.05 61.8 560.55 63.28 561.05 64.8 561.55 66.39 562.05 68.03 562.55 69.75 563.05 71.56 563.55 73.44 564.05 75.41 564.55 77.44 565.05 79.5 565.55 81.57 566.05 83.61 566.55 85.59 567.05 87.5 567.55 89.33 568.05 91.09 568.55 92.77 569.05 94.37 569.55 95.87 570.05 97.24 570.55 98.42 571.05 99.39 571.55 100.1 572.05 100.54 572.55 100.7 573.05 100.6 573.55 100.26 574.05 99.72 574.55 99.01 575.05 98.16 575.55 97.2 576.05 96.13 576.55 94.96 577.05 93.69 577.55 92.3 578.05 90.77 578.55 89.12 579.05 87.35 579.55 85.49 580.05 83.59 580.55 81.68 581.05 79.82 581.55 78.04 582.05 76.35 582.55 74.79 583.05 73.33 583.55 71.96 584.05 70.68 584.55 69.47 585.05 68.31 585.55 67.2 586.05 66.14 586.55 65.13 587.05 64.16 587.55 63.25 588.05 62.37 588.55 61.54 589.05 60.75 589.55 60 590.05 59.28 590.55 58.59 591.05 57.93 591.55 57.29 592.05 56.66 592.55 56.06 593.05 55.48 593.55 54.91 594.05 54.36 594.55 53.83 595.05 53.31 595.55 52.8 596.05 52.31 596.55 51.83 597.05 51.37 597.55 50.91 598.05 50.47 598.55 50.03 599.05 49.6 599.55 49.18 600.05 48.76 600.55 48.35 601.05 47.93 601.55 47.52 602.05 47.1 602.55 46.69 603.05 46.28 603.55 45.87 604.05 45.46 604.55 45.07 605.05 44.68 605.55 44.3 606.05 43.94 606.55 43.59 607.05 43.26 607.55 42.94 608.05 42.65 608.55 42.37 609.05 42.12 609.55 41.9 610.05 41.7 610.55 41.52 611.05 41.38 611.55 41.25 612.05 41.15 612.55 41.06 613.05 40.99 613.55 40.93 614.05 40.87 614.55 40.81 615.05 40.76 615.55 40.71 616.05 40.66 616.55 40.62 617.05 40.57 617.55 40.53 618.05 40.49 618.55 40.46 619.05 40.42 619.55 40.39 620.05 40.36 620.55 40.33 621.05 40.31 621.55 40.29 622.05 40.27 622.55 40.25 623.05 40.24 623.55 40.23 624.05 40.22 624.55 40.21 625.05 40.21 625.55 40.21 626.05 40.21 626.55 40.22 627.05 40.22 627.55 40.23 628.05 40.25 628.55 40.26 629.05 40.28 629.55 40.3 630.05 40.32 630.55 40.34 631.05 40.36 631.55 40.39 632.05 40.42 632.55 40.45 633.05 40.48 633.55 40.51 634.05 40.55 634.55 40.58 635.05 40.62 635.55 40.66 636.05 40.7 636.55 40.74 637.05 40.79 637.55 40.84 638.05 40.9 638.55 40.97 639.05 41.06 639.55 41.17 640.05 41.29 640.55 41.44 641.05 41.61 641.55 41.81 642.05 42.02 642.55 42.26 643.05 42.51 643.55 42.78 644.05 43.06 644.55 43.36 645.05 43.67 645.55 43.99 646.05 44.32 646.55 44.65 647.05 44.99 647.55 45.34 648.05 45.69 648.55 46.04 649.05 46.39 649.55 46.74 650.05 47.09 650.55 47.43 651.05 47.76 651.55 48.09 652.05 48.41 652.55 48.72 653.05 49.01 653.55 49.29 654.05 49.56 654.55 49.81 655.05 50.05 655.55 50.27 656.05 50.48 656.55 50.68 657.05 50.88 657.55 51.07 658.05 51.25 658.55 51.43 659.05 51.61 659.55 51.79 660.05 51.97 660.55 52.14 661.05 52.31 661.55 52.49 662.05 52.66 662.55 52.82 663.05 52.99 663.55 53.15 664.05 53.31 664.55 53.47 665.05 53.63 665.55 53.78 666.05 53.93 666.55 54.08 667.05 54.22 667.55 54.37 668.05 54.51 668.55 54.64 669.05 54.78 669.55 54.91 670.05 55.03 670.55 55.16 671.05 55.28 671.55 55.4 672.05 55.51 672.55 55.62 673.05 55.72 673.55 55.83 674.05 55.92 674.55 56.02 675.05 56.11 675.55 56.19 676.05 56.26 676.55 56.33 677.05 56.38 677.55 56.43 L677.55 82.9 677.05 82.84 676.55 82.77 676.05 82.68 675.55 82.58 675.05 82.48 674.55 82.37 674.05 82.25 673.55 82.14 673.05 82.02 672.55 81.9 672.05 81.78 671.55 81.66 671.05 81.53 670.55 81.4 670.05 81.27 669.55 81.14 669.05 81.01 668.55 80.87 668.05 80.74 667.55 80.6 667.05 80.46 666.55 80.32 666.05 80.17 665.55 80.03 665.05 79.88 664.55 79.73 664.05 79.58 663.55 79.43 663.05 79.28 662.55 79.13 662.05 78.97 661.55 78.82 661.05 78.66 660.55 78.5 660.05 78.34 659.55 78.18 659.05 78.01 658.55 77.85 658.05 77.68 657.55 77.52 657.05 77.35 656.55 77.18 656.05 77 655.55 76.83 655.05 76.64 654.55 76.45 654.05 76.26 653.55 76.06 653.05 75.85 652.55 75.64 652.05 75.43 651.55 75.21 651.05 74.99 650.55 74.76 650.05 74.53 649.55 74.3 649.05 74.06 648.55 73.83 648.05 73.59 647.55 73.35 647.05 73.12 646.55 72.88 646.05 72.65 645.55 72.41 645.05 72.18 644.55 71.95 644.05 71.73 643.55 71.5 643.05 71.29 642.55 71.07 642.05 70.86 641.55 70.66 641.05 70.46 640.55 70.27 640.05 70.08 639.55 69.9 639.05 69.73 638.55 69.56 638.05 69.39 637.55 69.22 637.05 69.06 636.55 68.89 636.05 68.73 635.55 68.56 635.05 68.39 634.55 68.23 634.05 68.06 633.55 67.9 633.05 67.74 632.55 67.58 632.05 67.43 631.55 67.28 631.05 67.14 630.55 67.01 630.05 66.89 629.55 66.77 629.05 66.67 628.55 66.57 628.05 66.49 627.55 66.41 627.05 66.35 626.55 66.3 626.05 66.27 625.55 66.24 625.05 66.23 624.55 66.23 624.05 66.23 623.55 66.24 623.05 66.26 622.55 66.28 622.05 66.31 621.55 66.34 621.05 66.37 620.55 66.41 620.05 66.46 619.55 66.5 619.05 66.55 618.55 66.61 618.05 66.67 617.55 66.73 617.05 66.79 616.55 66.86 616.05 66.93 615.55 67.01 615.05 67.08 614.55 67.16 614.05 67.25 613.55 67.33 613.05 67.43 612.55 67.53 612.05 67.65 611.55 67.79 611.05 67.94 610.55 68.12 610.05 68.33 609.55 68.57 609.05 68.83 608.55 69.12 608.05 69.43 607.55 69.77 607.05 70.13 606.55 70.5 606.05 70.89 605.55 71.3 605.05 71.72 604.55 72.15 604.05 72.59 603.55 73.04 603.05 73.5 602.55 73.95 602.05 74.41 601.55 74.87 601.05 75.34 600.55 75.8 600.05 76.26 599.55 76.72 599.05 77.19 598.55 77.66 598.05 78.14 597.55 78.63 597.05 79.13 596.55 79.65 596.05 80.17 595.55 80.71 595.05 81.26 594.55 81.82 594.05 82.4 593.55 83 593.05 83.61 592.55 84.24 592.05 84.89 591.55 85.56 591.05 86.25 590.55 86.96 590.05 87.7 589.55 88.47 589.05 89.26 588.55 90.1 588.05 90.97 587.55 91.89 587.05 92.85 586.55 93.86 586.05 94.91 585.55 96.01 585.05 97.15 584.55 98.34 584.05 99.58 583.55 100.88 583.05 102.26 582.55 103.72 582.05 105.27 581.55 106.92 581.05 108.66 580.55 110.48 580.05 112.34 579.55 114.22 579.05 116.09 578.55 117.9 578.05 119.66 577.55 121.34 577.05 122.94 576.55 124.48 576.05 125.95 575.55 127.35 575.05 128.66 574.55 129.83 574.05 130.84 573.55 131.62 573.05 132.12 572.55 132.29 572.05 132.09 571.55 131.52 571.05 130.57 570.55 129.29 570.05 127.73 569.55 125.97 569.05 124.06 568.55 122.08 568.05 120.07 567.55 118.04 567.05 116 566.55 113.95 566.05 111.88 565.55 109.81 565.05 107.75 564.55 105.72 564.05 103.74 563.55 101.82 563.05 99.97 562.55 98.21 562.05 96.51 561.55 94.88 561.05 93.31 560.55 91.79 560.05 90.34 559.55 88.96 559.05 87.65 558.55 86.41 558.05 85.26 557.55 84.19 557.05 83.2 556.55 82.28 556.05 81.43 555.55 80.63 555.05 79.88 554.55 79.16 554.05 78.47 553.55 77.8 553.05 77.14 552.55 76.48 552.05 75.82 551.55 75.16 551.05 74.5 550.55 73.83 550.05 73.16 549.55 72.48 549.05 71.83 548.55 71.21 548.05 70.66 547.55 70.22 547.05 69.9 546.55 69.7 546.05 69.61 545.55 69.6 545.05 69.66 544.55 69.77 544.05 69.91 543.55 70.08 543.05 70.27 542.55 70.5 542.05 70.75 541.55 71.03 541.05 71.34 540.55 71.67 540.05 72.02 539.55 72.39 539.05 72.78 538.55 73.19 538.05 73.6 537.55 74.01 537.05 74.42 536.55 74.81 536.05 75.17 535.55 75.52 535.05 75.84 534.55 76.14 534.05 76.41 533.55 76.65 533.05 76.86 532.55 77.03 532.05 77.18 531.55 77.29 531.05 77.38 530.55 77.46 530.05 77.51 529.55 77.57 529.05 77.61 528.55 77.65 528.05 77.69 527.55 77.73 527.05 77.77 526.55 77.81 526.05 77.84 525.55 77.88 525.05 77.91 524.55 77.94 524.05 77.98 523.55 78.01 523.05 78.05 522.55 78.08 522.05 78.12 521.55 78.16 521.05 78.2 520.55 78.25 520.05 78.29 519.55 78.34 519.05 78.39 518.55 78.45 518.05 78.5 517.55 78.56 517.05 78.61 516.55 78.67 516.05 78.73 515.55 78.8 515.05 78.86 514.55 78.93 514.05 78.99 513.55 79.06 513.05 79.13 512.55 79.19 512.05 79.25 511.55 79.29 511.05 79.33 510.55 79.36 510.05 79.38 509.55 79.39Z" fill="#d4d5d5" clip-path="url(#cc)"/>
<path d="M509.55 65.1 510.05 65.1 510.55 65.1 511.05 65.1 511.55 65.1 512.05 65.09 512.55 65.09 513.05 65.08 513.55 65.07 514.05 65.06 514.55 65.04 515.05 65.03 515.55 65.01 516.05 64.99 516.55 64.96 517.05 64.94 517.55 64.92 518.05 64.89 518.55 64.86 519.05 64.83 519.55 64.8 520.05 64.76 520.55 64.73 521.05 64.69 521.55 64.64 522.05 64.57 522.55 64.5 523.05 64.42 523.55 64.32 524.05 64.22 524.55 64.1 525.05 63.98 525.55 63.86 526.05 63.73 526.55 63.59 527.05 63.46 527.55 63.32 528.05 63.18 528.55 63.04 529.05 62.89 529.55 62.74 530.05 62.57 530.55 62.39 531.05 62.19 531.55 61.97 532.05 61.73 532.55 61.45 533.05 61.14 533.55 60.79 534.05 60.42 534.55 60.02 535.05 59.6 535.55 59.18 536.05 58.74 536.55 58.29 537.05 57.82 537.55 57.34 538.05 56.85 538.55 56.35 539.05 55.85 539.55 55.35 540.05 54.84 540.55 54.33 541.05 53.82 541.55 53.32 542.05 52.82 542.55 52.35 543.05 51.9 543.55 51.47 544.05 51.06 544.55 50.65 545.05 50.28 545.55 49.95 546.05 49.71 546.55 49.61 547.05 49.71 547.55 50.09 548.05 50.73 548.55 51.58 549.05 52.57 549.55 53.61 550.05 54.68 550.55 55.76 551.05 56.84 551.55 57.9 552.05 58.91 552.55 59.86 553.05 60.76 553.55 61.63 554.05 62.48 554.55 63.33 555.05 64.18 555.55 65.05 556.05 65.97 556.55 66.93 557.05 67.95 557.55 69.04 558.05 70.19 558.55 71.41 559.05 72.68 559.55 74.01 560.05 75.39 560.55 76.82 561.05 78.31 561.55 79.84 562.05 81.43 562.55 83.08 563.05 84.83 563.55 86.69 564.05 88.67 564.55 90.74 565.05 92.87 565.55 95.02 566.05 97.14 566.55 99.18 567.05 101.14 567.55 103 568.05 104.81 568.55 106.6 569.05 108.37 569.55 110.09 570.05 111.7 570.55 113.12 571.05 114.29 571.55 115.13 572.05 115.62 572.55 115.75 573.05 115.56 573.55 115.11 574.05 114.44 574.55 113.6 575.05 112.64 575.55 111.57 576.05 110.43 576.55 109.24 577.05 107.97 577.55 106.59 578.05 105.06 578.55 103.36 579.05 101.51 579.55 99.57 580.05 97.57 580.55 95.57 581.05 93.63 581.55 91.79 582.05 90.08 582.55 88.52 583.05 87.08 583.55 85.74 584.05 84.46 584.55 83.22 585.05 82.03 585.55 80.89 586.05 79.78 586.55 78.73 587.05 77.72 587.55 76.76 588.05 75.85 588.55 75 589.05 74.18 589.55 73.41 590.05 72.67 590.55 71.96 591.05 71.27 591.55 70.6 592.05 69.95 592.55 69.32 593.05 68.71 593.55 68.12 594.05 67.55 594.55 66.99 595.05 66.44 595.55 65.92 596.05 65.4 596.55 64.91 597.05 64.42 597.55 63.95 598.05 63.49 598.55 63.05 599.05 62.61 599.55 62.18 600.05 61.76 600.55 61.35 601.05 60.93 601.55 60.52 602.05 60.11 602.55 59.7 603.05 59.29 603.55 58.89 604.05 58.49 604.55 58.1 605.05 57.72 605.55 57.35 606.05 56.99 606.55 56.65 607.05 56.32 607.55 56.01 608.05 55.71 608.55 55.43 609.05 55.17 609.55 54.94 610.05 54.72 610.55 54.54 611.05 54.37 611.55 54.23 612.05 54.11 612.55 54 613.05 53.9 613.55 53.81 614.05 53.72 614.55 53.63 615.05 53.55 615.55 53.47 616.05 53.39 616.55 53.31 617.05 53.24 617.55 53.17 618.05 53.1 618.55 53.04 619.05 52.98 619.55 52.92 620.05 52.87 620.55 52.83 621.05 52.78 621.55 52.74 622.05 52.71 622.55 52.68 623.05 52.66 623.55 52.64 624.05 52.62 624.55 52.61 625.05 52.61 625.55 52.62 626.05 52.63 626.55 52.66 627.05 52.69 627.55 52.73 628.05 52.79 628.55 52.85 629.05 52.92 629.55 53 630.05 53.09 630.55 53.19 631.05 53.29 631.55 53.39 632.05 53.51 632.55 53.62 633.05 53.75 633.55 53.87 634.05 54 634.55 54.13 635.05 54.27 635.55 54.41 636.05 54.54 636.55 54.68 637.05 54.82 637.55 54.96 638.05 55.11 638.55 55.25 639.05 55.41 639.55 55.58 640.05 55.76 640.55 55.95 641.05 56.15 641.55 56.37 642.05 56.6 642.55 56.84 643.05 57.08 643.55 57.34 644.05 57.6 644.55 57.87 645.05 58.14 645.55 58.43 646.05 58.71 646.55 59 647.05 59.29 647.55 59.58 648.05 59.87 648.55 60.17 649.05 60.46 649.55 60.75 650.05 61.04 650.55 61.32 651.05 61.6 651.55 61.88 652.05 62.15 652.55 62.41 653.05 62.67 653.55 62.92 654.05 63.15 654.55 63.38 655.05 63.6 655.55 63.81 656.05 64.01 656.55 64.2 657.05 64.39 657.55 64.58 658.05 64.77 658.55 64.95 659.05 65.13 659.55 65.32 660.05 65.5 660.55 65.68 661.05 65.85 661.55 66.03 662.05 66.2 662.55 66.37 663.05 66.55 663.55 66.71 664.05 66.88 664.55 67.05 665.05 67.21 665.55 67.37 666.05 67.53 666.55 67.69 667.05 67.84 667.55 67.99 668.05 68.14 668.55 68.29 669.05 68.44 669.55 68.58 670.05 68.72 670.55 68.86 671.05 69 671.55 69.13 672.05 69.26 672.55 69.39 673.05 69.51 673.55 69.63 674.05 69.75 674.55 69.87 675.05 69.98 675.55 70.09 676.05 70.2 676.55 70.3 677.05 70.38 677.55 70.44" fill="none" stroke="#838383" stroke-width="1.6" stroke-linejoin="round" clip-path="url(#cc)"/>
<path d="M512 131.1H677" stroke="#f4f4f4" stroke-width="1"/>
<rect x="510.55" y="16.5" width="166.45" height="133.8" fill="none" stroke="#1a1a1a" stroke-width="1.3"/>
<path d="M510.55 36.98h2.6M510.55 68.3h2.6M510.55 99.62h2.6M510.55 130.94h2.6M510.55 21.32h1.6M510.55 52.64h1.6M510.55 83.96h1.6M510.55 115.28h1.6M510.55 146.6h1.6" stroke="#1a1a1a" stroke-width="1.25" fill="none"/>
<text x="504.25" y="40.73" text-anchor="end" class="t">40</text>
<text x="504.25" y="72.05" text-anchor="end" class="t">0</text>
<text x="504.25" y="103.37" text-anchor="end" class="t">–40</text>
<text x="504.25" y="134.69" text-anchor="end" class="t">–80</text>
<path d="M571.7 150.3v-2.6M635.1 150.3v-2.6M540 150.3v-1.6M603.4 150.3v-1.6M666.8 150.3v-1.6" stroke="#1a1a1a" stroke-width="1.25" fill="none"/>
<text x="571.7" y="163.7" text-anchor="middle" class="t">1</text>
<text x="635.1" y="163.7" text-anchor="middle" class="t">2</text>
<text transform="translate(475.4 83.5) rotate(-90)" text-anchor="middle" class="l">Amplitude(µV)</text>
<text x="594" y="179.6" text-anchor="middle" class="l">Time(ms)</text>
<text x="466" y="16.9" class="L">c</text>
<text x="594" y="8.1" text-anchor="middle" class="T">State-independent neurons</text>
<path d="M44.05 340V271.72H44.55V288.49H45.05V277.53H45.55V281.07H46.05V280.58H46.56V279.64H47.06V286.17H47.56V279.54H48.06V281.78H48.56V266.36H49.06V277.62H49.56V279.66H50.06V279.31H50.56V280.64H51.06V281.97H51.57V279.45H52.07V276.16H52.57V278.71H53.07V274.23H53.57V278.38H54.07V277.46H54.57V271.79H55.07V275.35H55.57V279.1H56.08V277.82H56.58V275.07H57.08V269.85H57.58V277.83H58.08V277.63H58.58V272.95H59.08V279.77H59.58V277.48H60.08V273.07H60.58V274.06H61.09V275.74H61.59V273.51H62.09V286.2H62.59V271.98H63.09V273.91H63.59V281.59H64.09V274.34H64.59V272.65H65.09V276.72H65.6V278.9H66.1V274.72H66.6V274.87H67.1V269.39H67.6V271.66H68.1V273.55H68.6V270.04H69.1V274.72H69.6V277.21H70.1V271.53H70.61V271.39H71.11V274.16H71.61V276.08H72.11V272.22H72.61V282.04H73.11V270.22H73.61V270.8H74.11V278.44H74.61V272.06H75.12V275.66H75.62V269.19H76.12V279.26H76.62V275H77.12V268.89H77.62V267.09H78.12V279.07H78.62V272.82H79.12V269.62H79.62V272.88H80.13V264.65H80.63V274.66H81.13V268.82H81.63V273.78H82.13V264.61H82.63V269.66H83.13V270.76H83.63V275.5H84.13V262.86H84.64V266.08H85.14V265.89H85.64V264.3H86.14V267H86.64V270.44H87.14V270.84H87.64V270.66H88.14V262.53H88.64V265.76H89.14V269.37H89.65V268.19H90.15V266.02H90.65V264.56H91.15V271.07H91.65V272.66H92.15V266.17H92.65V261.54H93.15V263.04H93.65V264.85H94.16V266.63H94.66V264.21H95.16V266H95.66V261.93H96.16V267.65H96.66V264.05H97.16V264.76H97.66V255.21H98.16V263.12H98.66V254.39H99.17V258.03H99.67V257.81H100.17V270.54H100.67V264.09H101.17V264.84H101.67V260.43H102.17V270.5H102.67V251.89H103.17V257.77H103.68V266.21H104.18V259.23H104.68V263.88H105.18V260.53H105.68V258.07H106.18V252.64H106.68V256.52H107.18V256.76H107.68V258.7H108.18V252.51H108.69V255.91H109.19V246.37H109.69V261.9H110.19V258.29H110.69V251.01H111.19V251.3H111.69V254H112.19V257.1H112.69V257.19H113.2V253.26H113.7V257.01H114.2V257.17H114.7V251.26H115.2V243.22H115.7V252.35H116.2V252.67H116.7V254.13H117.2V253.96H117.7V246.41H118.21V244.48H118.71V246.83H119.21V244.91H119.71V244.96H120.21V244.12H120.71V249.43H121.21V244.71H121.71V241.78H122.21V244.18H122.72V242.02H123.22V242.04H123.72V238.88H124.22V233.09H124.72V236.28H125.22V234.02H125.72V229.31H126.22V229H126.72V224.54H127.22V238.18H127.73V227.61H128.23V233.12H128.73V231.78H129.23V230.36H129.73V230.79H130.23V232.37H130.73V237.05H131.23V233.1H131.73V241.29H132.23V241.83H132.74V239.3H133.24V245.14H133.74V236.08H134.24V241.11H134.74V237.7H135.24V246.57H135.74V248.66H136.24V247.41H136.74V246.08H137.25V251.66H137.75V248.85H138.25V251.05H138.75V245.82H139.25V254.91H139.75V249.37H140.25V256.24H140.75V258.03H141.25V248.25H141.75V259.92H142.26V255.43H142.76V246.22H143.26V256.03H143.76V254.65H144.26V251.25H144.76V256.52H145.26V257.05H145.76V248.82H146.26V264.14H146.77V255.69H147.27V255H147.77V256.5H148.27V259.14H148.77V255.15H149.27V259.71H149.77V262.66H150.27V258.51H150.77V262.05H151.27V260.84H151.78V260.2H152.28V261.02H152.78V261.4H153.28V263.95H153.78V261.79H154.28V269.13H154.78V262.08H155.28V266.1H155.78V257.82H156.29V257.49H156.79V269.51H157.29V262.04H157.79V263.25H158.29V266.84H158.79V261.28H159.29V265.13H159.79V270.13H160.29V264.85H160.79V264.63H161.3V263.91H161.8V269.03H162.3V262.47H162.8V262.25H163.3V269.35H163.8V267.78H164.3V265.87H164.8V267.85H165.3V259.59H165.81V265.42H166.31V270.09H166.81V269.47H167.31V267H167.81V258.57H168.31V267.83H168.81V266.9H169.31V265.67H169.81V262.23H170.31V259.56H170.82V270.05H171.32V265.55H171.82V267.86H172.32V266.34H172.82V273.09H173.32V262.47H173.82V269.56H174.32V269.15H174.82V272.85H175.33V272.26H175.83V267.67H176.33V266.28H176.83V267.29H177.33V265.77H177.83V267.73H178.33V270.4H178.83V263.34H179.33V268.63H179.83V271.32H180.34V268.44H180.84V266.54H181.34V261.34H181.84V272.86H182.34V269.08H182.84V264.91H183.34V272.8H183.84V272.52H184.34V272.84H184.85V268.03H185.35V279.4H185.85V271.5H186.35V268.65H186.85V276.2H187.35V267.97H187.85V261.74H188.35V275.87H188.85V273.34H189.35V279.94H189.86V276.62H190.36V268.1H190.86V278.3H191.36V268.51H191.86V275.79H192.36V272.08H192.86V275.78H193.36V284.37H193.86V278.46H194.37V275.85H194.87V273.02H195.37V281.83H195.87V275.7H196.37V279.55H196.87V283.5H197.37V279.88H197.87V274.29H198.37V269.12H198.87V274.08H199.38V271.91H199.88V277.39H200.38V281.64H200.88V282.27H201.38V277.6H201.88V274.28H202.38V276.52H202.88V275.5H203.38V279.13H203.89V276.4H204.39V279.23H204.89V278.7H205.39V282.24H205.89V283.26H206.39V279.27H206.89V281.56H207.39V274.28H207.89V275.05H208.39V277.9H208.9V266.83H209.4V274.11H209.9V279.82H210.4V274.65H210.9V340Z" fill="#e2686a" clip-path="url(#cd)"/>
<path d="M127.48 226V300" stroke="#fff" stroke-opacity="0.09" stroke-width="0.8"/>
<rect x="44.05" y="206.3" width="166.85" height="133.7" fill="none" stroke="#1a1a1a" stroke-width="1.3"/>
<path d="M44.05 210.4h2.6M44.05 253.5h2.6M44.05 296.6h2.6M44.05 231.95h1.6M44.05 275.05h1.6M44.05 318.15h1.6" stroke="#1a1a1a" stroke-width="1.25" fill="none"/>
<text x="37.75" y="214.95" text-anchor="end" class="t">30</text>
<text x="37.75" y="258.05" text-anchor="end" class="t">20</text>
<text x="37.75" y="301.15" text-anchor="end" class="t">10</text>
<path d="M44.06 340v-2.6M127.48 340v-2.6M210.91 340v-2.6M85.77 340v-1.6M169.19 340v-1.6" stroke="#1a1a1a" stroke-width="1.25" fill="none"/>
<text x="45.46" y="353.4" text-anchor="middle" class="t">–0.5</text>
<text x="127.48" y="353.4" text-anchor="middle" class="t">0.0</text>
<text x="210.91" y="353.4" text-anchor="middle" class="t">0.5</text>
<text transform="translate(15.9 273.4) rotate(-90)" text-anchor="middle" class="l">Spikes per second</text>
<text x="128.7" y="369.9" text-anchor="middle" class="l">Time (s)</text>
<text x="-0.9" y="205.9" class="L">d</text>
<path d="M277.4 340V283.15H277.73V288.32H278.07V272.82H278.4V262.48H278.73V257.32H279.06V267.65H279.4V252.15H279.73V283.15H280.06V262.48H280.4V246.98H280.73V267.65H281.06V288.32H281.4V283.15H281.73V246.98H282.06V267.65H282.39V293.49H282.73V272.82H283.06V288.32H283.39V277.99H283.73V277.99H284.06V277.99H284.39V262.48H284.73V272.82H285.06V277.99H285.39V262.48H285.72V231.16H286.06V293.49H286.39V272.82H286.72V283.15H287.06V257.32H287.39V272.82H287.72V267.65H288.06V272.82H288.39V272.82H288.72V283.15H289.05V277.99H289.39V283.15H289.72V288.32H290.05V267.65H290.39V267.65H290.72V257.32H291.05V262.48H291.39V298.66H291.72V267.65H292.05V283.15H292.38V267.65H292.72V267.65H293.05V298.66H293.38V272.82H293.72V272.82H294.05V257.32H294.38V288.32H294.72V262.48H295.05V283.15H295.38V272.82H295.71V283.15H296.05V252.15H296.38V262.48H296.71V236.64H297.05V262.48H297.38V257.32H297.71V257.32H298.05V277.99H298.38V272.82H298.71V252.15H299.04V277.99H299.38V241.81H299.71V272.82H300.04V262.48H300.38V272.82H300.71V272.82H301.04V267.65H301.38V246.98H301.71V283.15H302.04V231.48H302.38V288.32H302.71V288.32H303.04V288.32H303.37V257.32H303.71V272.82H304.04V283.15H304.37V283.15H304.71V262.48H305.04V283.15H305.37V288.32H305.7V262.48H306.04V288.32H306.37V272.82H306.7V272.82H307.04V277.99H307.37V272.82H307.7V252.15H308.04V277.99H308.37V288.32H308.7V277.99H309.03V272.82H309.37V272.82H309.7V252.15H310.03V277.99H310.37V277.99H310.7V277.99H311.03V277.99H311.37V267.65H311.7V272.82H312.03V267.65H312.37V246.98H312.7V262.48H313.03V293.49H313.36V246.98H313.7V267.65H314.03V283.15H314.36V257.32H314.7V267.65H315.03V277.99H315.36V277.99H315.69V283.15H316.03V267.65H316.36V257.32H316.69V272.82H317.03V262.48H317.36V246.98H317.69V267.65H318.03V267.65H318.36V272.82H318.69V283.15H319.02V283.15H319.36V272.82H319.69V262.48H320.02V277.99H320.36V267.65H320.69V262.48H321.02V267.65H321.36V257.32H321.69V262.48H322.02V262.48H322.35V246.98H322.69V262.48H323.02V267.65H323.35V262.48H323.69V283.15H324.02V272.82H324.35V257.32H324.69V262.48H325.02V252.15H325.35V267.65H325.69V288.32H326.02V241.81H326.35V257.32H326.68V283.15H327.02V252.15H327.35V267.65H327.68V293.49H328.02V277.99H328.35V277.99H328.68V246.98H329.01V283.15H329.35V272.82H329.68V246.98H330.01V262.48H330.35V283.15H330.68V267.65H331.01V257.32H331.35V262.48H331.68V283.15H332.01V283.15H332.34V267.65H332.68V277.99H333.01V277.99H333.34V293.49H333.68V241.81H334.01V231.48H334.34V257.32H334.68V257.32H335.01V252.15H335.34V303.83H335.67V277.99H336.01V257.32H336.34V262.48H336.67V272.82H337.01V272.82H337.34V272.82H337.67V246.98H338.01V241.81H338.34V277.99H338.67V283.15H339V236.64H339.34V283.15H339.67V277.99H340V267.65H340.34V262.48H340.67V257.32H341V267.65H341.34V283.15H341.67V262.48H342V267.65H342.33V246.98H342.67V272.82H343V288.32H343.33V257.32H343.67V231.16H344V277.99H344.33V298.66H344.67V277.99H345V272.82H345.33V252.15H345.66V283.15H346V262.48H346.33V257.32H346.66V277.99H347V257.32H347.33V246.98H347.66V231.48H348V257.32H348.33V267.65H348.66V257.32H349V272.82H349.33V272.82H349.66V283.15H349.99V272.82H350.33V272.82H350.66V231.48H350.99V257.32H351.33V252.15H351.66V252.15H351.99V272.82H352.32V257.32H352.66V298.66H352.99V267.65H353.32V257.32H353.66V303.83H353.99V288.32H354.32V303.83H354.66V314.16H354.99V314.16H355.32V314.16H355.65V314.16H355.99V308.99H356.32V308.99H356.65V314.16H356.99V314.16H357.32V308.99H357.65V303.83H357.99V308.99H358.32V308.99H358.65V314.16H358.99V319.33H359.32V314.16H359.65V308.99H359.98V308.99H360.32V340H360.65V319.33H360.98V308.99H361.32V314.16H361.65V314.16H361.98V314.16H362.31V308.99H362.65V308.99H362.98V308.99H363.31V308.99H363.65V303.83H363.98V308.99H364.31V314.16H364.65V308.99H364.98V308.99H365.31V272.82H365.64V262.48H365.98V257.32H366.31V283.15H366.64V293.49H366.98V252.15H367.31V267.65H367.64V246.98H367.98V288.32H368.31V246.98H368.64V262.48H368.97V272.82H369.31V272.82H369.64V267.65H369.97V272.82H370.31V272.82H370.64V283.15H370.97V252.15H371.31V272.82H371.64V267.65H371.97V267.65H372.3V303.83H372.64V262.48H372.97V272.82H373.3V272.82H373.64V267.65H373.97V283.15H374.3V257.32H374.64V277.99H374.97V283.15H375.3V283.15H375.63V267.65H375.97V262.48H376.3V277.99H376.63V272.82H376.97V257.32H377.3V257.32H377.63V252.15H377.97V272.82H378.3V277.99H378.63V277.99H378.96V262.48H379.3V257.32H379.63V272.82H379.96V257.32H380.3V241.81H380.63V272.82H380.96V283.15H381.3V283.15H381.63V288.32H381.96V277.99H382.29V277.99H382.63V288.32H382.96V262.48H383.29V303.83H383.63V288.32H383.96V231.16H384.29V231.48H384.63V262.48H384.96V262.48H385.29V246.98H385.62V262.48H385.96V267.65H386.29V288.32H386.62V272.82H386.96V277.99H387.29V277.99H387.62V277.99H387.96V272.82H388.29V252.15H388.62V257.32H388.95V288.32H389.29V241.81H389.62V246.98H389.95V267.65H390.29V252.15H390.62V257.32H390.95V252.15H391.29V262.48H391.62V288.32H391.95V272.82H392.28V272.82H392.62V293.49H392.95V277.99H393.28V288.32H393.62V293.49H393.95V267.65H394.28V272.82H394.62V277.99H394.95V283.15H395.28V277.99H395.62V277.99H395.95V277.99H396.28V272.82H396.61V277.99H396.95V267.65H397.28V262.48H397.61V267.65H397.95V277.99H398.28V277.99H398.61V262.48H398.94V257.32H399.28V272.82H399.61V303.83H399.94V303.83H400.28V267.65H400.61V267.65H400.94V252.15H401.28V262.48H401.61V267.65H401.94V267.65H402.27V288.32H402.61V257.32H402.94V252.15H403.27V262.48H403.61V267.65H403.94V267.65H404.27V257.32H404.61V277.99H404.94V277.99H405.27V283.15H405.61V272.82H405.94V246.98H406.27V272.82H406.6V252.15H406.94V257.32H407.27V262.48H407.6V257.32H407.94V283.15H408.27V267.65H408.6V246.98H408.93V277.99H409.27V272.82H409.6V277.99H409.93V267.65H410.27V283.15H410.6V246.98H410.93V272.82H411.27V288.32H411.6V246.98H411.93V257.32H412.26V262.48H412.6V262.48H412.93V272.82H413.26V272.82H413.6V262.48H413.93V257.32H414.26V257.32H414.6V267.65H414.93V277.99H415.26V272.82H415.6V257.32H415.93V252.15H416.26V272.82H416.59V277.99H416.93V252.15H417.26V262.48H417.59V262.48H417.93V288.32H418.26V272.82H418.59V277.99H418.92V267.65H419.26V293.49H419.59V252.15H419.92V267.65H420.26V262.48H420.59V288.32H420.92V272.82H421.26V252.15H421.59V293.49H421.92V267.65H422.25V262.48H422.59V277.99H422.92V257.32H423.25V272.82H423.59V252.15H423.92V262.48H424.25V267.65H424.59V241.81H424.92V257.32H425.25V252.15H425.58V288.32H425.92V277.99H426.25V241.81H426.58V257.32H426.92V272.82H427.25V262.48H427.58V283.15H427.92V267.65H428.25V283.15H428.58V236.64H428.91V277.99H429.25V277.99H429.58V257.32H429.91V246.98H430.25V283.15H430.58V277.99H430.91V241.81H431.25V277.99H431.58V246.98H431.91V267.65H432.25V267.65H432.58V267.65H432.91V246.98H433.24V262.48H433.58V252.15H433.91V267.65H434.24V293.49H434.58V283.15H434.91V252.15H435.24V257.32H435.57V262.48H435.91V262.48H436.24V277.99H436.57V267.65H436.91V283.15H437.24V267.65H437.57V277.99H437.91V272.82H438.24V262.48H438.57V272.82H438.9V241.81H439.24V262.48H439.57V267.65H439.9V252.15H440.24V288.32H440.57V267.65H440.9V262.48H441.24V241.81H441.57V241.81H441.9V231.48H442.24V257.32H442.57V283.15H442.9V262.48H443.23V262.48H443.57V283.15H443.9V340Z" fill="#248bc7" clip-path="url(#ce)"/>
<rect x="277.4" y="206.45" width="166.5" height="133.55" fill="none" stroke="#1a1a1a" stroke-width="1.3"/>
<path d="M277.4 214.52h2.6M277.4 245.84h2.6M277.4 277.16h2.6M277.4 308.48h2.6M277.4 230.18h1.6M277.4 261.5h1.6M277.4 292.82h1.6M277.4 324.14h1.6" stroke="#1a1a1a" stroke-width="1.25" fill="none"/>
<text x="271.1" y="219.17" text-anchor="end" class="t">8</text>
<text x="271.1" y="250.49" text-anchor="end" class="t">6</text>
<text x="271.1" y="281.81" text-anchor="end" class="t">4</text>
<text x="271.1" y="313.13" text-anchor="end" class="t">2</text>
<path d="M277.4 340v-2.6M360.65 340v-2.6M443.9 340v-2.6M319.02 340v-1.6M402.27 340v-1.6" stroke="#1a1a1a" stroke-width="1.25" fill="none"/>
<text x="278.8" y="353.4" text-anchor="middle" class="t">–0.5</text>
<text x="360.65" y="353.4" text-anchor="middle" class="t">0.0</text>
<text x="443.9" y="353.4" text-anchor="middle" class="t">0.5</text>
<text transform="translate(255.4 273.4) rotate(-90)" text-anchor="middle" class="l">Spikes per second</text>
<text x="361.6" y="369.9" text-anchor="middle" class="l">Time (s)</text>
<text x="232.9" y="205.9" class="L">e</text>
<path d="M511.1 340.4V248.57H511.6V251.38H512.1V253.9H512.6V256.61H513.1V254.69H513.59V246.54H514.09V252.42H514.59V246.78H515.09V254.85H515.59V255.41H516.09V250.52H516.59V251.1H517.09V252.2H517.58V249.7H518.08V252.79H518.58V249.59H519.08V258.57H519.58V254.66H520.08V261.01H520.58V258.31H521.08V260.74H521.57V253.65H522.07V258.19H522.57V251.41H523.07V251.9H523.57V253.41H524.07V263.66H524.57V254.94H525.07V252.77H525.57V252.04H526.06V259.27H526.56V254.62H527.06V256.81H527.56V256.05H528.06V247.81H528.56V256.02H529.06V252.59H529.56V248.54H530.05V254.99H530.55V252.89H531.05V251.9H531.55V242.24H532.05V257.74H532.55V251.99H533.05V242.7H533.55V259.1H534.04V248.48H534.54V251.72H535.04V255.05H535.54V243.39H536.04V248.82H536.54V257.44H537.04V251.8H537.54V249.57H538.04V252.91H538.53V249.05H539.03V252.32H539.53V249.06H540.03V245.63H540.53V254.92H541.03V251H541.53V253.82H542.03V251.04H542.52V256.58H543.02V253.62H543.52V251.62H544.02V246.45H544.52V245.02H545.02V255.55H545.52V252.89H546.02V246.23H546.51V257.59H547.01V250.64H547.51V248.88H548.01V242.78H548.51V245.16H549.01V249.52H549.51V249.59H550.01V248.96H550.51V241.04H551V249.54H551.5V248.9H552V245.92H552.5V239.84H553V248.18H553.5V241.78H554V247.2H554.5V249.03H554.99V241.87H555.49V244.07H555.99V246.98H556.49V243.87H556.99V248.25H557.49V242.06H557.99V246.65H558.49V244H558.98V241.83H559.48V244.93H559.98V253.83H560.48V255.3H560.98V247.62H561.48V250.18H561.98V245.43H562.48V236.21H562.98V249.69H563.47V248.71H563.97V244.99H564.47V243.65H564.97V246.53H565.47V246.58H565.97V242.5H566.47V243.22H566.97V249.98H567.46V245.69H567.96V245.09H568.46V249.79H568.96V243.89H569.46V248.71H569.96V240.54H570.46V243.85H570.96V244.19H571.45V247.06H571.95V244.85H572.45V253H572.95V249.04H573.45V242.32H573.95V253.16H574.45V239.91H574.95V251.18H575.45V240H575.94V246.9H576.44V236.48H576.94V242.28H577.44V249.46H577.94V237.02H578.44V236.01H578.94V242.47H579.44V243.22H579.93V242.54H580.43V245.95H580.93V236.63H581.43V243.65H581.93V241.27H582.43V244.3H582.93V243.32H583.43V245.93H583.92V234.51H584.42V240.46H584.92V235.27H585.42V239.2H585.92V242.06H586.42V240.2H586.92V240.99H587.42V238.27H587.92V239.76H588.41V239.24H588.91V243.83H589.41V241.16H589.91V230.16H590.41V240.25H590.91V241.78H591.41V235.51H591.91V230.67H592.4V243.17H592.9V240.66H593.4V245.54H593.9V252.79H594.4V239.52H594.9V239.85H595.4V236.46H595.9V240.2H596.39V235.01H596.89V239.54H597.39V230.48H597.89V242.35H598.39V242.97H598.89V231.87H599.39V233.95H599.89V236.75H600.38V238.33H600.88V240.28H601.38V240.73H601.88V235.88H602.38V240.14H602.88V239.65H603.38V239.05H603.88V234.14H604.38V236.49H604.87V237.97H605.37V242.31H605.87V246.09H606.37V235.98H606.87V226.61H607.37V241.12H607.87V238.27H608.37V237.38H608.86V237.33H609.36V237.1H609.86V243.34H610.36V234.83H610.86V247.16H611.36V238.05H611.86V239.84H612.36V238.34H612.85V234.08H613.35V235.99H613.85V247.74H614.35V250.3H614.85V239.43H615.35V247.66H615.85V243.41H616.35V239.82H616.85V250.91H617.34V253.12H617.84V242.84H618.34V243.93H618.84V245.36H619.34V244.25H619.84V244.67H620.34V251.37H620.84V245.58H621.33V249.26H621.83V247.06H622.33V243.03H622.83V245.67H623.33V243.74H623.83V250.02H624.33V248.7H624.83V250.33H625.32V249.97H625.82V245.33H626.32V249.77H626.82V244.88H627.32V245.08H627.82V237.79H628.32V252.97H628.82V233.13H629.32V247.47H629.81V247.26H630.31V253.71H630.81V249.47H631.31V244.28H631.81V248.04H632.31V247.43H632.81V249.18H633.31V235.91H633.8V248.22H634.3V257.93H634.8V251.39H635.3V257.12H635.8V262.88H636.3V251H636.8V242.9H637.3V248.68H637.79V254.16H638.29V253.25H638.79V244.24H639.29V241.76H639.79V249.23H640.29V249.79H640.79V249.5H641.29V246.23H641.79V247.45H642.28V249.04H642.78V254.69H643.28V247.95H643.78V253.32H644.28V245.59H644.78V256.1H645.28V251.21H645.78V250.73H646.27V256.62H646.77V243.29H647.27V244.52H647.77V253.08H648.27V236.49H648.77V249.52H649.27V262.76H649.77V250.21H650.26V251.64H650.76V251.06H651.26V256.22H651.76V252.71H652.26V252.35H652.76V246.37H653.26V250.16H653.76V251.7H654.26V244.98H654.75V254.19H655.25V253.5H655.75V254.06H656.25V244.94H656.75V247.64H657.25V247.89H657.75V249.01H658.25V251.51H658.74V251.08H659.24V253.17H659.74V252.99H660.24V251.88H660.74V245.49H661.24V249.73H661.74V252.47H662.24V254.79H662.73V255.06H663.23V245.23H663.73V250.09H664.23V252.05H664.73V253.89H665.23V253.86H665.73V252.71H666.23V248.59H666.73V254.19H667.22V253.48H667.72V253.48H668.22V252.04H668.72V259.56H669.22V253.59H669.72V256.34H670.22V248.69H670.72V256H671.21V250.07H671.71V245.91H672.21V254.02H672.71V248.93H673.21V251.82H673.71V252.68H674.21V257.05H674.71V250.65H675.2V243.81H675.7V253.83H676.2V253.59H676.7V257.3H677.2V340.4Z" fill="#7b7c7f" clip-path="url(#cf)"/>
<path d="M594.15 249V303.5" stroke="#fff" stroke-opacity="0.17" stroke-width="0.9"/>
<rect x="511.1" y="206.5" width="166.1" height="133.6" fill="none" stroke="#1a1a1a" stroke-width="1.3"/>
<path d="M511.1 225.5h2.6M511.1 263.8h2.6M511.1 302.1h2.6M511.1 244.65h1.6M511.1 282.95h1.6M511.1 321.25h1.6" stroke="#1a1a1a" stroke-width="1.25" fill="none"/>
<text x="504.8" y="229.75" text-anchor="end" class="t">30</text>
<text x="504.8" y="268.05" text-anchor="end" class="t">20</text>
<text x="504.8" y="306.35" text-anchor="end" class="t">10</text>
<path d="M511.1 340.1v-2.6M594.15 340.1v-2.6M677.2 340.1v-2.6M552.62 340.1v-1.6M635.67 340.1v-1.6" stroke="#1a1a1a" stroke-width="1.25" fill="none"/>
<text x="512.5" y="353.5" text-anchor="middle" class="t">–0.5</text>
<text x="594.15" y="353.5" text-anchor="middle" class="t">0.0</text>
<text x="677.2" y="353.5" text-anchor="middle" class="t">0.5</text>
<text transform="translate(482.3 273.4) rotate(-90)" text-anchor="middle" class="l">Spikes per second</text>
<text x="595.2" y="369.9" text-anchor="middle" class="l">Time (s)</text>
<text x="466" y="205.9" class="L">f</text>
<path d="M71.5 447.69V442.04M69 442.04H74" stroke="#efb23a" stroke-width="1.25" fill="none"/>
<rect x="54.7" y="448.3" width="33.6" height="82.1" fill="#f2cf5a" stroke="#efb23a" stroke-width="1.2"/>
<path d="M127.25 481.61V475.96M124.75 475.96H129.75" stroke="#1ba3e2" stroke-width="1.25" fill="none"/>
<rect x="110.5" y="482.21" width="33.5" height="48.19" fill="#4a89c2" stroke="#1ba3e2" stroke-width="1.2"/>
<path d="M182.75 485.77V473.28M180.25 473.28H185.25" stroke="#7c3f8d" stroke-width="1.25" fill="none"/>
<rect x="166.1" y="486.38" width="33.3" height="44.02" fill="#968eb8" stroke="#7c3f8d" stroke-width="1.2"/>
<rect x="44.05" y="396.5" width="166.7" height="133.9" fill="none" stroke="#1a1a1a" stroke-width="1.3"/>
<path d="M44.05 411.4h2.6M44.05 441.15h2.6M44.05 470.9h2.6M44.05 500.65h2.6M44.05 530.4h2.6M44.05 426.27h1.6M44.05 456.02h1.6M44.05 485.77h1.6M44.05 515.52h1.6" stroke="#1a1a1a" stroke-width="1.25" fill="none"/>
<text x="37.75" y="415.15" text-anchor="end" class="t">4</text>
<text x="37.75" y="444.9" text-anchor="end" class="t">3</text>
<text x="37.75" y="474.65" text-anchor="end" class="t">2</text>
<text x="37.75" y="504.4" text-anchor="end" class="t">1</text>
<text x="37.75" y="534.15" text-anchor="end" class="t">0</text>
<path d="M71.6 413.7H181.1" stroke="#2a2a2a" stroke-width="1.25" fill="none"/>
<path d="M126.5 410.45L126.5 405.35M124.29 409.17L128.71 406.62M124.29 406.62L128.71 409.17" stroke="#3a3a3a" stroke-width="1.0" stroke-linecap="round" fill="none"/>
<path d="M71.6 427.9H125.3" stroke="#555555" stroke-width="1.25" fill="none"/>
<path d="M93.4 425.35L93.4 420.25M91.19 424.07L95.61 421.53M91.19 421.53L95.61 424.07M99.5 425.35L99.5 420.25M97.29 424.07L101.71 421.53M97.29 421.53L101.71 424.07M105.6 425.35L105.6 420.25M103.39 424.07L107.81 421.53M103.39 421.53L107.81 424.07" stroke="#3a3a3a" stroke-width="1.0" stroke-linecap="round" fill="none"/>
<path d="M126.8 458.5H183.1" stroke="#2a2a2a" stroke-width="1.25" fill="none"/>
<text x="156.4" y="455" text-anchor="middle" class="s">n.s.</text>
<text transform="translate(23.2 464.2) rotate(-90)" text-anchor="middle" class="l">Mean firing rate (Hz)</text>
<text x="71.5" y="545.4" text-anchor="middle" class="l">Wake</text>
<text x="127.2" y="545.4" text-anchor="middle" class="l">NREM</text>
<text x="182.8" y="545.4" text-anchor="middle" class="l">REM</text>
<text x="-0.9" y="398.3" class="L">g</text>
<path d="M304.5 516.95V513.72M302 513.72H307" stroke="#efb23a" stroke-width="1.25" fill="none"/>
<rect x="287.7" y="517.55" width="33.6" height="12.85" fill="#f2cf5a" stroke="#efb23a" stroke-width="1.2"/>
<path d="M360.15 458.85V444.32M357.65 444.32H362.65" stroke="#1ba3e2" stroke-width="1.25" fill="none"/>
<rect x="343.6" y="459.45" width="33.1" height="70.95" fill="#4a89c2" stroke="#1ba3e2" stroke-width="1.2"/>
<path d="M415.35 479.29V467.99M412.85 467.99H417.85" stroke="#7c3f8d" stroke-width="1.25" fill="none"/>
<rect x="398.8" y="479.89" width="33.1" height="50.51" fill="#968eb8" stroke="#7c3f8d" stroke-width="1.2"/>
<rect x="276.8" y="396.5" width="166.7" height="133.9" fill="none" stroke="#1a1a1a" stroke-width="1.3"/>
<path d="M276.8 422.8h2.6M276.8 449.7h2.6M276.8 476.6h2.6M276.8 503.5h2.6M276.8 530.4h2.6M276.8 409.35h1.6M276.8 436.25h1.6M276.8 463.15h1.6M276.8 490.05h1.6M276.8 516.95h1.6" stroke="#1a1a1a" stroke-width="1.25" fill="none"/>
<text x="270.5" y="427.25" text-anchor="end" class="t">2.0</text>
<text x="270.5" y="454.15" text-anchor="end" class="t">1.5</text>
<text x="270.5" y="481.05" text-anchor="end" class="t">1.0</text>
<text x="270.5" y="507.95" text-anchor="end" class="t">0.5</text>
<text x="270.5" y="534.85" text-anchor="end" class="t">0.0</text>
<path d="M303.6 413.1H416.1" stroke="#2a2a2a" stroke-width="1.25" fill="none"/>
<path d="M357.05 409.85L357.05 404.75M354.84 408.57L359.26 406.03M354.84 406.03L359.26 408.57M363.15 409.85L363.15 404.75M360.94 408.57L365.36 406.03M360.94 406.03L365.36 408.57" stroke="#3a3a3a" stroke-width="1.0" stroke-linecap="round" fill="none"/>
<path d="M303.6 427.2H360.1" stroke="#2a2a2a" stroke-width="1.25" fill="none"/>
<path d="M326.4 424.55L326.4 419.45M324.19 423.27L328.61 420.73M324.19 420.73L328.61 423.27M332.5 424.55L332.5 419.45M330.29 423.27L334.71 420.73M330.29 420.73L334.71 423.27M338.6 424.55L338.6 419.45M336.39 423.27L340.81 420.73M336.39 420.73L340.81 423.27" stroke="#3a3a3a" stroke-width="1.0" stroke-linecap="round" fill="none"/>
<path d="M359.3 433.4H416.1" stroke="#2a2a2a" stroke-width="1.25" fill="none"/>
<text x="388.5" y="430.3" text-anchor="middle" class="s">n.s.</text>
<text transform="translate(246.8 464.2) rotate(-90)" text-anchor="middle" class="l">Mean firing rate (Hz)</text>
<text x="304.6" y="545.4" text-anchor="middle" class="l">Wake</text>
<text x="360.3" y="545.4" text-anchor="middle" class="l">NREM</text>
<text x="415.4" y="545.4" text-anchor="middle" class="l">REM</text>
<text x="232.9" y="398.3" class="L">h</text>
<path d="M538.45 464.78V462.5M535.95 462.5H540.95" stroke="#efb23a" stroke-width="1.25" fill="none"/>
<rect x="521.8" y="465.38" width="33.3" height="65.02" fill="#f2cf5a" stroke="#efb23a" stroke-width="1.2"/>
<path d="M593.95 464.78V462.5M591.45 462.5H596.45" stroke="#1ba3e2" stroke-width="1.25" fill="none"/>
<rect x="577.4" y="465.38" width="33.1" height="65.02" fill="#4a89c2" stroke="#1ba3e2" stroke-width="1.2"/>
<path d="M649.45 453.81V444.29M646.95 444.29H651.95" stroke="#7c3f8d" stroke-width="1.25" fill="none"/>
<rect x="632.9" y="454.41" width="33.1" height="75.99" fill="#968eb8" stroke="#7c3f8d" stroke-width="1.2"/>
<rect x="510.9" y="396.5" width="166.5" height="133.9" fill="none" stroke="#1a1a1a" stroke-width="1.3"/>
<path d="M510.9 406.2h2.6M510.9 447.6h2.6M510.9 489h2.6M510.9 530.4h2.6M510.9 426.9h1.6M510.9 468.3h1.6M510.9 509.7h1.6" stroke="#1a1a1a" stroke-width="1.25" fill="none"/>
<text x="504.6" y="410.95" text-anchor="end" class="t">6</text>
<text x="504.6" y="452.35" text-anchor="end" class="t">4</text>
<text x="504.6" y="493.75" text-anchor="end" class="t">2</text>
<text x="504.6" y="535.15" text-anchor="end" class="t">0</text>
<path d="M536.1 413.7H648.6" stroke="#2a2a2a" stroke-width="1.25" fill="none"/>
<text x="593.5" y="410.3" text-anchor="middle" class="s">n.s.</text>
<path d="M594.6 429.9H648.6" stroke="#2a2a2a" stroke-width="1.25" fill="none"/>
<text x="623.3" y="426.6" text-anchor="middle" class="s">n.s.</text>
<path d="M536.1 442.7H591.8" stroke="#2a2a2a" stroke-width="1.25" fill="none"/>
<text x="565.8" y="439.2" text-anchor="middle" class="s">n.s.</text>
<text transform="translate(489 464.2) rotate(-90)" text-anchor="middle" class="l">Mean firing rate (Hz)</text>
<text x="538.8" y="545.4" text-anchor="middle" class="l">Wake</text>
<text x="594.2" y="545.4" text-anchor="middle" class="l">NREM</text>
<text x="650" y="545.4" text-anchor="middle" class="l">REM</text>
<text x="466" y="398.3" class="L">i</text>
</svg></body></html>
